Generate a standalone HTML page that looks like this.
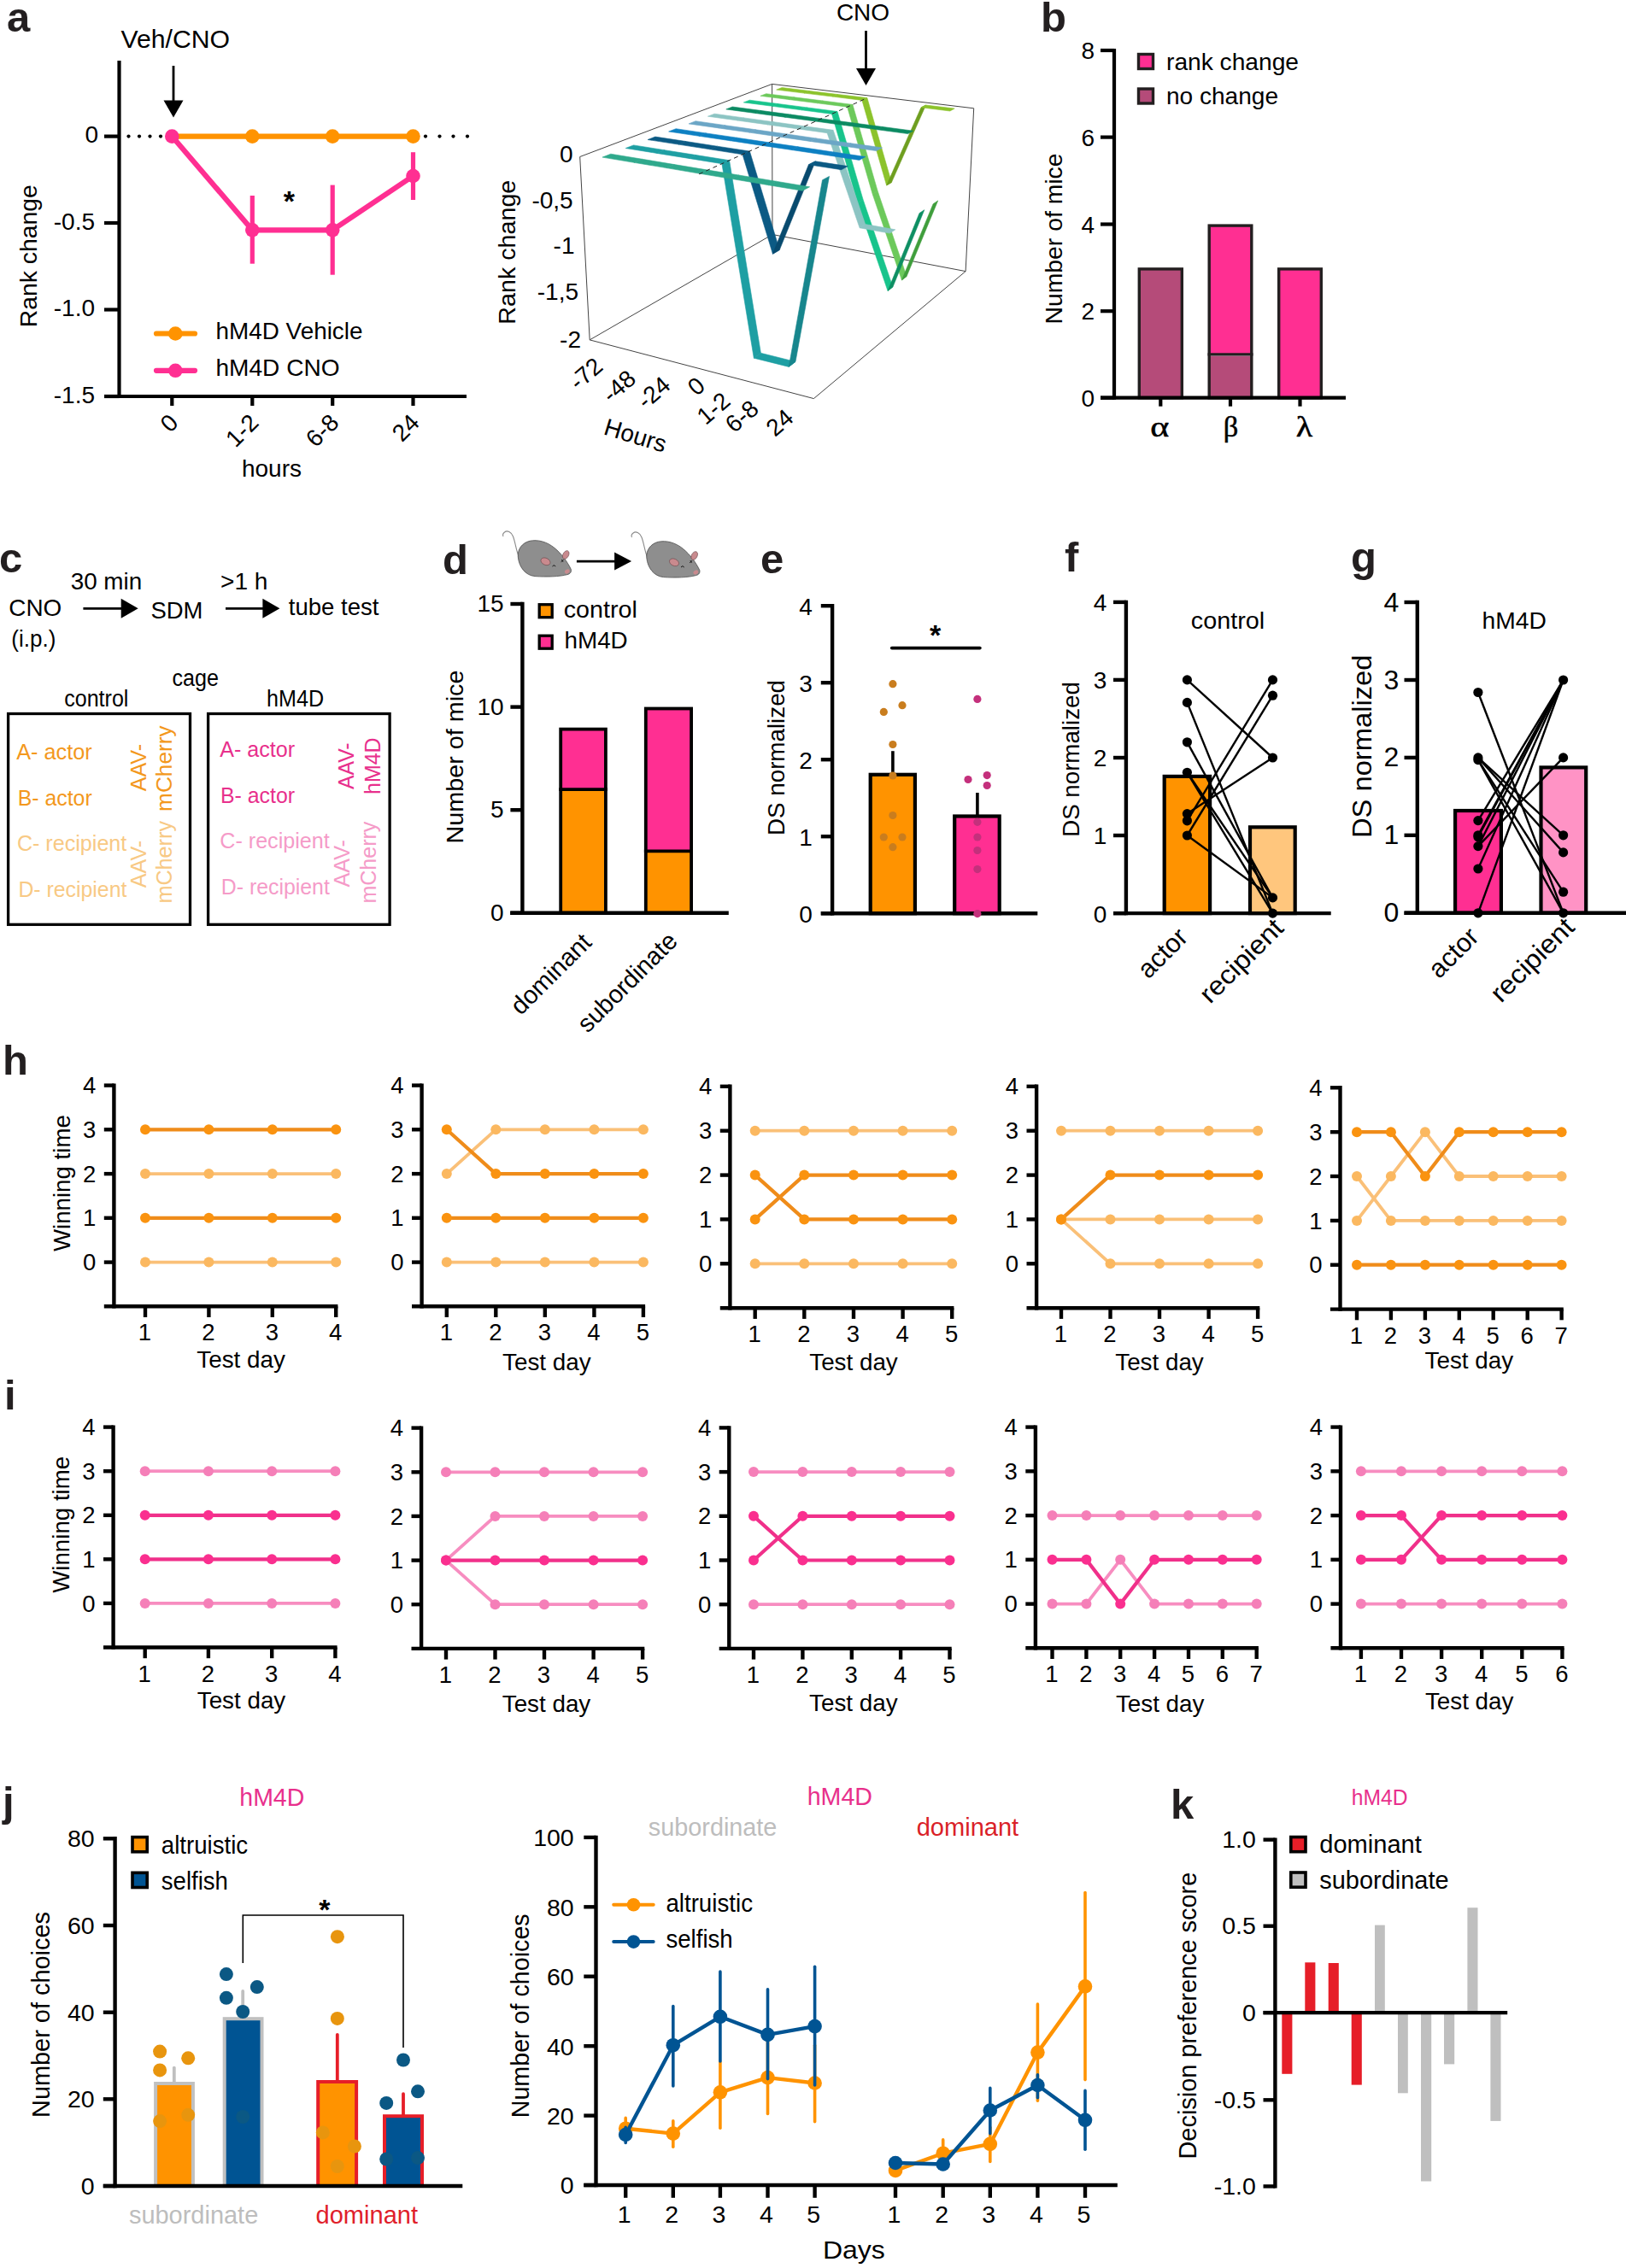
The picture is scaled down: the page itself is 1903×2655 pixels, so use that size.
<!DOCTYPE html>
<html><head><meta charset="utf-8"><title>Figure</title>
<style>html,body{margin:0;padding:0;background:#fff}svg{display:block}text{font-family:"Liberation Sans", sans-serif}</style></head>
<body>
<svg width="1903" height="2655" viewBox="0 0 1903 2655">
<rect width="1903" height="2655" fill="#fff"/>
<text x="8.0" y="37.0" font-size="49" fill="#231F20" font-weight="bold">a</text>
<text x="141.5" y="56.0" font-size="29" textLength="127.5" lengthAdjust="spacingAndGlyphs">Veh/CNO</text>
<line x1="203.0" y1="77.0" x2="203.0" y2="119.5" stroke="#000" stroke-width="2.8"/>
<polygon points="191.5,117.5 214.5,117.5 203.0,137.5" fill="#000"/>
<circle cx="150.5" cy="159.6" r="2.1" fill="#000"/>
<circle cx="163.0" cy="159.6" r="2.1" fill="#000"/>
<circle cx="175.5" cy="159.6" r="2.1" fill="#000"/>
<circle cx="188.0" cy="159.6" r="2.1" fill="#000"/>
<circle cx="498.0" cy="159.6" r="2.1" fill="#000"/>
<circle cx="514.5" cy="159.6" r="2.1" fill="#000"/>
<circle cx="530.5" cy="159.6" r="2.1" fill="#000"/>
<circle cx="547.0" cy="159.6" r="2.1" fill="#000"/>
<line x1="139.5" y1="71.0" x2="139.5" y2="466.1" stroke="#000" stroke-width="4.2"/>
<line x1="122.0" y1="464.0" x2="546.0" y2="464.0" stroke="#000" stroke-width="4.2"/>
<line x1="122.0" y1="159.6" x2="139.5" y2="159.6" stroke="#000" stroke-width="4.2"/>
<line x1="122.0" y1="261.0" x2="139.5" y2="261.0" stroke="#000" stroke-width="4.2"/>
<line x1="122.0" y1="362.5" x2="139.5" y2="362.5" stroke="#000" stroke-width="4.2"/>
<line x1="122.0" y1="464.0" x2="139.5" y2="464.0" stroke="#000" stroke-width="4.2"/>
<text x="115.0" y="167.1" font-size="28" text-anchor="end">0</text>
<text x="111.0" y="268.5" font-size="28" text-anchor="end">-0.5</text>
<text x="111.0" y="370.0" font-size="28" text-anchor="end">-1.0</text>
<text x="111.0" y="471.5" font-size="28" text-anchor="end">-1.5</text>
<line x1="201.3" y1="464.0" x2="201.3" y2="475.0" stroke="#000" stroke-width="4.2"/>
<line x1="295.3" y1="464.0" x2="295.3" y2="475.0" stroke="#000" stroke-width="4.2"/>
<line x1="389.2" y1="464.0" x2="389.2" y2="475.0" stroke="#000" stroke-width="4.2"/>
<line x1="483.5" y1="464.0" x2="483.5" y2="475.0" stroke="#000" stroke-width="4.2"/>
<text x="210.3" y="496.5" font-size="28" text-anchor="end" transform="rotate(-45 210.3 496.5)">0</text>
<text x="304.3" y="496.5" font-size="28" text-anchor="end" transform="rotate(-45 304.3 496.5)">1-2</text>
<text x="398.2" y="496.5" font-size="28" text-anchor="end" transform="rotate(-45 398.2 496.5)">6-8</text>
<text x="492.5" y="496.5" font-size="28" text-anchor="end" transform="rotate(-45 492.5 496.5)">24</text>
<text x="318.0" y="558.0" font-size="28" text-anchor="middle">hours</text>
<text x="43.5" y="299.8" font-size="28" text-anchor="middle" transform="rotate(-90 43.5 299.8)" textLength="167.0" lengthAdjust="spacingAndGlyphs">Rank change</text>
<polyline points="201.3,159.6 483.5,159.6" fill="none" stroke="#FF9300" stroke-width="6.2" stroke-linejoin="round" stroke-linecap="round"/>
<circle cx="295.3" cy="159.6" r="8.3" fill="#FF9300"/>
<circle cx="389.2" cy="159.6" r="8.3" fill="#FF9300"/>
<circle cx="483.5" cy="159.6" r="8.3" fill="#FF9300"/>
<line x1="295.3" y1="229.0" x2="295.3" y2="308.7" stroke="#FF2F92" stroke-width="5.2"/>
<line x1="389.2" y1="216.6" x2="389.2" y2="321.7" stroke="#FF2F92" stroke-width="5.2"/>
<line x1="483.5" y1="178.2" x2="483.5" y2="234.0" stroke="#FF2F92" stroke-width="5.2"/>
<polyline points="201.3,159.6 295.3,269.3 389.2,269.3 483.5,206.0" fill="none" stroke="#FF2F92" stroke-width="6.2" stroke-linejoin="round" stroke-linecap="round"/>
<circle cx="201.3" cy="159.6" r="8.3" fill="#FF2F92"/>
<circle cx="295.3" cy="269.3" r="8.3" fill="#FF2F92"/>
<circle cx="389.2" cy="269.3" r="8.3" fill="#FF2F92"/>
<circle cx="483.5" cy="206.0" r="8.3" fill="#FF2F92"/>
<text x="338.3" y="247.0" font-size="34" text-anchor="middle" font-weight="bold">*</text>
<line x1="183.0" y1="390.5" x2="228.0" y2="390.5" stroke="#FF9300" stroke-width="6.2" stroke-linecap="round"/>
<circle cx="205.3" cy="390.5" r="8.3" fill="#FF9300"/>
<line x1="183.0" y1="433.8" x2="228.0" y2="433.8" stroke="#FF2F92" stroke-width="6.2" stroke-linecap="round"/>
<circle cx="205.3" cy="433.8" r="8.3" fill="#FF2F92"/>
<text x="252.5" y="397.0" font-size="28" textLength="172.0" lengthAdjust="spacingAndGlyphs">hM4D Vehicle</text>
<text x="252.5" y="440.0" font-size="28" textLength="145.0" lengthAdjust="spacingAndGlyphs">hM4D CNO</text>
<text x="1010.0" y="24.0" font-size="28" text-anchor="middle">CNO</text>
<line x1="1013.5" y1="36.0" x2="1013.5" y2="82.0" stroke="#000" stroke-width="2.8"/>
<polygon points="1002.0,80.0 1025.0,80.0 1013.5,100.0" fill="#000"/>
<line x1="678.7" y1="183.5" x2="690.2" y2="397.9" stroke="#444" stroke-width="1.0"/>
<line x1="678.7" y1="183.5" x2="903.6" y2="98.4" stroke="#444" stroke-width="1.0"/>
<line x1="903.6" y1="98.4" x2="904.0" y2="274.5" stroke="#444" stroke-width="1.0"/>
<line x1="903.6" y1="98.4" x2="1139.7" y2="126.8" stroke="#444" stroke-width="1.0"/>
<line x1="1139.7" y1="126.8" x2="1130.1" y2="317.6" stroke="#444" stroke-width="1.0"/>
<line x1="690.2" y1="397.9" x2="904.0" y2="274.5" stroke="#444" stroke-width="1.0"/>
<line x1="904.0" y1="274.5" x2="1130.1" y2="317.6" stroke="#444" stroke-width="1.0"/>
<line x1="690.2" y1="397.9" x2="952.4" y2="466.6" stroke="#444" stroke-width="1.0"/>
<line x1="952.4" y1="466.6" x2="1130.1" y2="317.6" stroke="#444" stroke-width="1.0"/>
<polygon points="908.7,105.1 915.2,102.5 947.6,106.5 941.3,109.1" fill="#8CC32B" stroke="#8CC32B" stroke-width="0.6"/>
<polygon points="941.3,109.1 947.6,106.5 980.7,110.5 974.5,113.1" fill="#8CC32B" stroke="#8CC32B" stroke-width="0.6"/>
<polygon points="974.5,113.1 980.7,110.5 1014.9,114.6 1008.9,117.4" fill="#8CC32B" stroke="#8CC32B" stroke-width="0.6"/>
<polygon points="1008.9,117.4 1014.9,114.6 1043.4,213.6 1037.6,217.0" fill="#8CC32B" stroke="#8CC32B" stroke-width="0.6"/>
<polygon points="1037.6,217.0 1043.4,213.6 1083.6,123.0 1078.0,125.8" fill="#6E9E1F" stroke="#6E9E1F" stroke-width="0.6"/>
<polygon points="1078.0,125.8 1083.6,123.0 1117.2,127.1 1111.8,130.0" fill="#8CC32B" stroke="#8CC32B" stroke-width="0.6"/>
<polygon points="889.9,112.3 896.7,109.7 929.6,113.8 923.0,116.5" fill="#6CC95B" stroke="#6CC95B" stroke-width="0.6"/>
<polygon points="923.0,116.5 929.6,113.8 963.2,118.0 956.7,120.8" fill="#6CC95B" stroke="#6CC95B" stroke-width="0.6"/>
<polygon points="956.7,120.8 963.2,118.0 997.9,122.4 991.6,125.2" fill="#6CC95B" stroke="#6CC95B" stroke-width="0.6"/>
<polygon points="991.6,125.2 997.9,122.4 1027.1,223.4 1021.1,227.0" fill="#6CC95B" stroke="#6CC95B" stroke-width="0.6"/>
<polygon points="1021.1,227.0 1027.1,223.4 1061.1,323.5 1055.4,327.9" fill="#6CC95B" stroke="#6CC95B" stroke-width="0.6"/>
<polygon points="1055.4,327.9 1061.1,323.5 1097.7,234.9 1092.1,238.7" fill="#3F9E3C" stroke="#3F9E3C" stroke-width="0.6"/>
<polygon points="870.3,119.9 877.4,117.2 910.7,121.5 903.8,124.3" fill="#18C48C" stroke="#18C48C" stroke-width="0.6"/>
<polygon points="903.8,124.3 910.7,121.5 944.8,125.9 938.1,128.8" fill="#18C48C" stroke="#18C48C" stroke-width="0.6"/>
<polygon points="938.1,128.8 944.8,125.9 980.0,130.5 973.5,133.4" fill="#18C48C" stroke="#18C48C" stroke-width="0.6"/>
<polygon points="973.5,133.4 980.0,130.5 1010.1,233.7 1003.8,237.4" fill="#18C48C" stroke="#18C48C" stroke-width="0.6"/>
<polygon points="1003.8,237.4 1010.1,233.7 1044.9,335.9 1039.0,340.5" fill="#18C48C" stroke="#18C48C" stroke-width="0.6"/>
<polygon points="1039.0,340.5 1044.9,335.9 1081.8,245.7 1076.0,249.6" fill="#0E8F63" stroke="#0E8F63" stroke-width="0.6"/>
<polygon points="849.8,127.9 857.2,125.0 891.1,129.5 883.8,132.5" fill="#0B8A62" stroke="#0B8A62" stroke-width="0.6"/>
<polygon points="883.8,132.5 891.1,129.5 925.6,134.1 918.6,137.2" fill="#0B8A62" stroke="#0B8A62" stroke-width="0.6"/>
<polygon points="918.6,137.2 925.6,134.1 961.4,138.9 954.5,142.0" fill="#0B8A62" stroke="#0B8A62" stroke-width="0.6"/>
<polygon points="954.5,142.0 961.4,138.9 994.1,143.3 987.4,146.5" fill="#0B8A62" stroke="#0B8A62" stroke-width="0.6"/>
<polygon points="987.4,146.5 994.1,143.3 1033.4,148.5 1027.0,151.8" fill="#0B8A62" stroke="#0B8A62" stroke-width="0.6"/>
<polygon points="1027.0,151.8 1033.4,148.5 1068.8,153.2 1062.6,156.6" fill="#0B8A62" stroke="#0B8A62" stroke-width="0.6"/>
<polygon points="828.4,136.2 836.2,133.2 870.5,137.9 862.9,141.0" fill="#8CC4C3" stroke="#8CC4C3" stroke-width="0.6"/>
<polygon points="862.9,141.0 870.5,137.9 905.5,142.7 898.2,145.9" fill="#8CC4C3" stroke="#8CC4C3" stroke-width="0.6"/>
<polygon points="898.2,145.9 905.5,142.7 941.9,147.8 934.7,151.0" fill="#8CC4C3" stroke="#8CC4C3" stroke-width="0.6"/>
<polygon points="934.7,151.0 941.9,147.8 975.1,152.3 968.1,155.7" fill="#8CC4C3" stroke="#8CC4C3" stroke-width="0.6"/>
<polygon points="968.1,155.7 975.1,152.3 1012.7,262.5 1006.1,266.8" fill="#8CC4C3" stroke="#8CC4C3" stroke-width="0.6"/>
<polygon points="1006.1,266.8 1012.7,262.5 1047.8,268.8 1041.4,273.1" fill="#8CC4C3" stroke="#8CC4C3" stroke-width="0.6"/>
<polygon points="806.0,144.9 814.1,141.7 848.9,146.7 841.0,149.9" fill="#6BA6C6" stroke="#6BA6C6" stroke-width="0.6"/>
<polygon points="841.0,149.9 848.9,146.7 884.5,151.8 876.8,155.1" fill="#6BA6C6" stroke="#6BA6C6" stroke-width="0.6"/>
<polygon points="876.8,155.1 884.5,151.8 921.4,157.0 913.9,160.4" fill="#6BA6C6" stroke="#6BA6C6" stroke-width="0.6"/>
<polygon points="913.9,160.4 921.4,157.0 955.2,161.9 947.8,165.4" fill="#6BA6C6" stroke="#6BA6C6" stroke-width="0.6"/>
<polygon points="947.8,165.4 955.2,161.9 995.8,167.7 988.7,171.3" fill="#6BA6C6" stroke="#6BA6C6" stroke-width="0.6"/>
<polygon points="988.7,171.3 995.8,167.7 1032.5,172.9 1025.6,176.6" fill="#6BA6C6" stroke="#6BA6C6" stroke-width="0.6"/>
<polygon points="782.6,154.0 791.1,150.7 826.4,155.9 818.1,159.3" fill="#0D80C2" stroke="#0D80C2" stroke-width="0.6"/>
<polygon points="818.1,159.3 826.4,155.9 862.5,161.2 854.4,164.7" fill="#0D80C2" stroke="#0D80C2" stroke-width="0.6"/>
<polygon points="854.4,164.7 862.5,161.2 899.9,166.8 892.0,170.4" fill="#0D80C2" stroke="#0D80C2" stroke-width="0.6"/>
<polygon points="892.0,170.4 899.9,166.8 934.2,171.8 926.5,175.5" fill="#0D80C2" stroke="#0D80C2" stroke-width="0.6"/>
<polygon points="926.5,175.5 934.2,171.8 975.6,178.0 968.1,181.7" fill="#0D80C2" stroke="#0D80C2" stroke-width="0.6"/>
<polygon points="968.1,181.7 975.6,178.0 1012.9,183.5 1005.7,187.4" fill="#0D80C2" stroke="#0D80C2" stroke-width="0.6"/>
<polygon points="758.0,163.5 766.9,160.1 802.7,165.5 794.0,169.1" fill="#0B5A84" stroke="#0B5A84" stroke-width="0.6"/>
<polygon points="794.0,169.1 802.7,165.5 839.3,171.2 830.8,174.8" fill="#0B5A84" stroke="#0B5A84" stroke-width="0.6"/>
<polygon points="830.8,174.8 839.3,171.2 877.4,177.0 869.0,180.8" fill="#0B5A84" stroke="#0B5A84" stroke-width="0.6"/>
<polygon points="869.0,180.8 877.4,177.0 912.3,292.6 904.4,297.3" fill="#0B5A84" stroke="#0B5A84" stroke-width="0.6"/>
<polygon points="904.4,297.3 912.3,292.6 954.3,188.8 946.4,192.8" fill="#084A6E" stroke="#084A6E" stroke-width="0.6"/>
<polygon points="946.4,192.8 954.3,188.8 992.3,194.6 984.7,198.7" fill="#0B5A84" stroke="#0B5A84" stroke-width="0.6"/>
<polygon points="732.2,173.5 741.5,169.9 777.8,175.7 768.6,179.4" fill="#1E9FA3" stroke="#1E9FA3" stroke-width="0.6"/>
<polygon points="768.6,179.4 777.8,175.7 815.0,181.6 806.0,185.4" fill="#1E9FA3" stroke="#1E9FA3" stroke-width="0.6"/>
<polygon points="806.0,185.4 815.0,181.6 853.6,187.7 844.9,191.7" fill="#1E9FA3" stroke="#1E9FA3" stroke-width="0.6"/>
<polygon points="844.9,191.7 853.6,187.7 890.4,413.3 882.3,419.2" fill="#1E9FA3" stroke="#1E9FA3" stroke-width="0.6"/>
<polygon points="882.3,419.2 890.4,413.3 931.0,423.4 923.2,429.4" fill="#1E9FA3" stroke="#1E9FA3" stroke-width="0.6"/>
<polygon points="923.2,429.4 931.0,423.4 970.5,206.4 962.5,210.7" fill="#17868D" stroke="#17868D" stroke-width="0.6"/>
<polygon points="705.0,184.1 714.8,180.2 751.7,186.3 742.0,190.3" fill="#2FA98C" stroke="#2FA98C" stroke-width="0.6"/>
<polygon points="742.0,190.3 751.7,186.3 789.4,192.6 779.9,196.6" fill="#2FA98C" stroke="#2FA98C" stroke-width="0.6"/>
<polygon points="779.9,196.6 789.4,192.6 828.6,199.1 819.4,203.3" fill="#2FA98C" stroke="#2FA98C" stroke-width="0.6"/>
<polygon points="819.4,203.3 828.6,199.1 864.7,205.0 855.7,209.3" fill="#2FA98C" stroke="#2FA98C" stroke-width="0.6"/>
<polygon points="855.7,209.3 864.7,205.0 908.2,212.2 899.5,216.7" fill="#2FA98C" stroke="#2FA98C" stroke-width="0.6"/>
<polygon points="899.5,216.7 908.2,212.2 947.6,218.8 939.1,223.3" fill="#2FA98C" stroke="#2FA98C" stroke-width="0.6"/>
<line x1="818.1" y1="203.8" x2="1013.3" y2="115.4" stroke="#222" stroke-width="1" stroke-dasharray="5 4"/>
<text x="670.7" y="189.7" font-size="28" text-anchor="end">0</text>
<text x="670.7" y="243.6" font-size="28" text-anchor="end">-0,5</text>
<text x="672.5" y="297.0" font-size="28" text-anchor="end">-1</text>
<text x="677.0" y="351.3" font-size="28" text-anchor="end">-1,5</text>
<text x="680.0" y="406.7" font-size="28" text-anchor="end">-2</text>
<text x="603.5" y="295.2" font-size="28" text-anchor="middle" transform="rotate(-90 603.5 295.2)" textLength="169.0" lengthAdjust="spacingAndGlyphs">Rank change</text>
<text font-size="28" text-anchor="middle" transform="translate(685.5 437.3) rotate(-41)" y="9.8">-72</text>
<text font-size="28" text-anchor="middle" transform="translate(724.2 452.0) rotate(-41)" y="9.8">-48</text>
<text font-size="28" text-anchor="middle" transform="translate(764.8 459.4) rotate(-41)" y="9.8">-24</text>
<text font-size="28" text-anchor="middle" transform="translate(814.6 452.0) rotate(-41)" y="9.8">0</text>
<text font-size="28" text-anchor="middle" transform="translate(834.9 477.9) rotate(-41)" y="9.8">1-2</text>
<text font-size="28" text-anchor="middle" transform="translate(868.1 487.1) rotate(-41)" y="9.8">6-8</text>
<text font-size="28" text-anchor="middle" transform="translate(912.4 494.5) rotate(-41)" y="9.8">24</text>
<text x="741.0" y="519.0" font-size="28" text-anchor="middle" transform="rotate(17 741.0 519.0)">Hours</text>
<text x="1218.0" y="37.0" font-size="49" fill="#231F20" font-weight="bold">b</text>
<rect x="1333.3" y="314.9" width="50.0" height="150.8" fill="#B54B79"/>
<rect x="1333.3" y="314.9" width="50.0" height="150.8" fill="none" stroke="#231F20" stroke-width="3.4"/>
<rect x="1415.2" y="416.6" width="49.6" height="49.1" fill="#B54B79"/>
<rect x="1415.2" y="264.1" width="49.6" height="150.8" fill="#FF2F92"/>
<rect x="1415.2" y="264.1" width="49.6" height="201.6" fill="none" stroke="#231F20" stroke-width="3.4"/>
<line x1="1413.5" y1="414.9" x2="1466.5" y2="414.9" stroke="#231F20" stroke-width="3.4"/>
<rect x="1496.7" y="314.9" width="49.6" height="150.8" fill="#FF2F92"/>
<rect x="1496.7" y="314.9" width="49.6" height="150.8" fill="none" stroke="#231F20" stroke-width="3.4"/>
<line x1="1304.0" y1="56.9" x2="1304.0" y2="467.8" stroke="#000" stroke-width="4.2"/>
<line x1="1288.0" y1="465.7" x2="1575.0" y2="465.7" stroke="#000" stroke-width="4.2"/>
<line x1="1288.0" y1="59.0" x2="1304.0" y2="59.0" stroke="#000" stroke-width="4.2"/>
<text x="1281.0" y="69.0" font-size="28" text-anchor="end">8</text>
<line x1="1288.0" y1="160.6" x2="1304.0" y2="160.6" stroke="#000" stroke-width="4.2"/>
<text x="1281.0" y="170.6" font-size="28" text-anchor="end">6</text>
<line x1="1288.0" y1="262.5" x2="1304.0" y2="262.5" stroke="#000" stroke-width="4.2"/>
<text x="1281.0" y="272.5" font-size="28" text-anchor="end">4</text>
<line x1="1288.0" y1="364.2" x2="1304.0" y2="364.2" stroke="#000" stroke-width="4.2"/>
<text x="1281.0" y="374.2" font-size="28" text-anchor="end">2</text>
<line x1="1288.0" y1="465.7" x2="1304.0" y2="465.7" stroke="#000" stroke-width="4.2"/>
<text x="1281.0" y="475.7" font-size="28" text-anchor="end">0</text>
<line x1="1358.3" y1="465.7" x2="1358.3" y2="475.7" stroke="#000" stroke-width="4.2"/>
<text x="1357.3" y="511.2" font-size="34" text-anchor="middle" style="font-family:'Liberation Serif', serif" stroke="#000" stroke-width="0.5" textLength="22" lengthAdjust="spacingAndGlyphs">α</text>
<line x1="1440.0" y1="465.7" x2="1440.0" y2="475.7" stroke="#000" stroke-width="4.2"/>
<text x="1440.5" y="511.2" font-size="34" text-anchor="middle" style="font-family:'Liberation Serif', serif" stroke="#000" stroke-width="0.5" textLength="17.5" lengthAdjust="spacingAndGlyphs">β</text>
<line x1="1521.5" y1="465.7" x2="1521.5" y2="475.7" stroke="#000" stroke-width="4.2"/>
<text x="1526.5" y="511.2" font-size="34" text-anchor="middle" style="font-family:'Liberation Serif', serif" stroke="#000" stroke-width="0.5" textLength="19.4" lengthAdjust="spacingAndGlyphs">λ</text>
<text x="1243.0" y="279.5" font-size="28" text-anchor="middle" transform="rotate(-90 1243.0 279.5)" textLength="200.0" lengthAdjust="spacingAndGlyphs">Number of mice</text>
<rect x="1332.5" y="63.5" width="17.0" height="17.0" fill="#FF2F92" stroke="#231F20" stroke-width="3.4"/>
<text x="1365.0" y="81.5" font-size="28" textLength="155.0" lengthAdjust="spacingAndGlyphs">rank change</text>
<rect x="1332.5" y="104.0" width="17.0" height="17.0" fill="#B54B79" stroke="#231F20" stroke-width="3.4"/>
<text x="1365.0" y="122.0" font-size="28" textLength="131.0" lengthAdjust="spacingAndGlyphs">no change</text>
<text x="-1.0" y="669.5" font-size="49" fill="#231F20" font-weight="bold">c</text>
<text x="82.7" y="689.6" font-size="28" textLength="83.5" lengthAdjust="spacingAndGlyphs">30 min</text>
<text x="10.3" y="721.3" font-size="28.5" textLength="62.0" lengthAdjust="spacingAndGlyphs">CNO</text>
<text x="13.3" y="756.5" font-size="28" textLength="52.0" lengthAdjust="spacingAndGlyphs">(i.p.)</text>
<line x1="97.4" y1="712.3" x2="143.7" y2="712.3" stroke="#000" stroke-width="2.8"/>
<polygon points="141.7,700.8 141.7,723.8 161.7,712.3" fill="#000"/>
<text x="176.4" y="724.0" font-size="28.5" textLength="61.0" lengthAdjust="spacingAndGlyphs">SDM</text>
<text x="258.0" y="689.6" font-size="28" textLength="55.5" lengthAdjust="spacingAndGlyphs">&gt;1 h</text>
<line x1="264.0" y1="712.3" x2="309.4" y2="712.3" stroke="#000" stroke-width="2.8"/>
<polygon points="307.4,700.8 307.4,723.8 327.4,712.3" fill="#000"/>
<text x="337.8" y="720.4" font-size="28.5" textLength="105.6" lengthAdjust="spacingAndGlyphs">tube test</text>
<text x="201.5" y="803.1" font-size="27" textLength="54.5" lengthAdjust="spacingAndGlyphs">cage</text>
<text x="75.2" y="826.7" font-size="27" textLength="75.2" lengthAdjust="spacingAndGlyphs">control</text>
<text x="312.1" y="826.7" font-size="27" textLength="67.0" lengthAdjust="spacingAndGlyphs">hM4D</text>
<rect x="9.6" y="835.5" width="212.9" height="246.8" fill="none" stroke="#000" stroke-width="3.3"/>
<rect x="243.6" y="835.5" width="212.5" height="246.8" fill="none" stroke="#000" stroke-width="3.3"/>
<text x="19.2" y="888.6" font-size="26" fill="#F3981D" textLength="88.5" lengthAdjust="spacingAndGlyphs">A- actor</text>
<text x="20.7" y="942.5" font-size="26" fill="#F3981D" textLength="87.0" lengthAdjust="spacingAndGlyphs">B- actor</text>
<text x="19.9" y="996.4" font-size="26" fill="#F8C984" textLength="128.4" lengthAdjust="spacingAndGlyphs">C- recipient</text>
<text x="21.4" y="1050.3" font-size="26" fill="#F8C984" textLength="127.0" lengthAdjust="spacingAndGlyphs">D- recipient</text>
<text x="171.2" y="898.6" font-size="26" text-anchor="middle" transform="rotate(-90 171.2 898.6)" fill="#F3981D" textLength="55.4" lengthAdjust="spacingAndGlyphs">AAV-</text>
<text x="201.5" y="899.7" font-size="26" text-anchor="middle" transform="rotate(-90 201.5 899.7)" fill="#F3981D" textLength="100.4" lengthAdjust="spacingAndGlyphs">mCherry</text>
<text x="171.2" y="1011.5" font-size="26" text-anchor="middle" transform="rotate(-90 171.2 1011.5)" fill="#F8C984" textLength="55.4" lengthAdjust="spacingAndGlyphs">AAV-</text>
<text x="201.5" y="1009.3" font-size="26" text-anchor="middle" transform="rotate(-90 201.5 1009.3)" fill="#F8C984" textLength="96.6" lengthAdjust="spacingAndGlyphs">mCherry</text>
<text x="257.3" y="885.7" font-size="26" fill="#E8308C" textLength="87.8" lengthAdjust="spacingAndGlyphs">A- actor</text>
<text x="258.0" y="940.3" font-size="26" fill="#E8308C" textLength="87.0" lengthAdjust="spacingAndGlyphs">B- actor</text>
<text x="257.3" y="993.4" font-size="26" fill="#F59BC8" textLength="128.4" lengthAdjust="spacingAndGlyphs">C- recipient</text>
<text x="258.8" y="1047.3" font-size="26" fill="#F59BC8" textLength="127.0" lengthAdjust="spacingAndGlyphs">D- recipient</text>
<text x="414.5" y="896.7" font-size="26" text-anchor="middle" transform="rotate(-90 414.5 896.7)" fill="#E8308C" textLength="54.6" lengthAdjust="spacingAndGlyphs">AAV-</text>
<text x="444.8" y="896.7" font-size="26" text-anchor="middle" transform="rotate(-90 444.8 896.7)" fill="#E8308C" textLength="66.5" lengthAdjust="spacingAndGlyphs">hM4D</text>
<text x="409.3" y="1010.8" font-size="26" text-anchor="middle" transform="rotate(-90 409.3 1010.8)" fill="#F59BC8" textLength="55.4" lengthAdjust="spacingAndGlyphs">AAV-</text>
<text x="439.6" y="1009.6" font-size="26" text-anchor="middle" transform="rotate(-90 439.6 1009.6)" fill="#F59BC8" textLength="96.0" lengthAdjust="spacingAndGlyphs">mCherry</text>
<text x="518.0" y="672.0" font-size="49" fill="#231F20" font-weight="bold">d</text>
<g transform="translate(0.0 0.0)">
<path d="M607.5,652 C604,645 603.5,636 600.5,628 C598.5,622.5 593.5,620.5 590.5,623 C588.5,624.5 588.3,626.5 589,628" fill="none" stroke="#8a8a8a" stroke-width="1.1"/>
<path d="M606.3,652 C605.5,643 611,635.5 620,633.3 C629,631.3 640,634 649,641.5 C657,648 664,657.5 668.3,666.5 C669,669.5 667.5,671.8 664,672.6 C655,675 640,675.6 626,674.6 C615,673.6 607.5,664 606.3,652 Z" fill="#8E8E8E" stroke="#4a4a4a" stroke-width="0.8"/>
<ellipse cx="662.2" cy="649.5" rx="3.3" ry="5.2" transform="rotate(28 662.2 649.5)" fill="#C98A8E" stroke="#6b4a4c" stroke-width="0.6"/>
<ellipse cx="638.5" cy="657.3" rx="5.8" ry="4" transform="rotate(25 638.5 657.3)" fill="#C98A8E" stroke="#6b4a4c" stroke-width="0.6"/>
<ellipse cx="663.8" cy="669" rx="3" ry="2.3" transform="rotate(-30 663.8 669)" fill="#C98A8E"/>
<path d="M646.5,663 Q648.3,660.3 650.2,663" fill="none" stroke="#111" stroke-width="1"/>
<path d="M656.6,657.8 L659.6,655.4 M657.4,655 L659,657.8" fill="none" stroke="#111" stroke-width="0.9"/>
</g>
<g transform="translate(150.5 1.0)">
<path d="M607.5,652 C604,645 603.5,636 600.5,628 C598.5,622.5 593.5,620.5 590.5,623 C588.5,624.5 588.3,626.5 589,628" fill="none" stroke="#8a8a8a" stroke-width="1.1"/>
<path d="M606.3,652 C605.5,643 611,635.5 620,633.3 C629,631.3 640,634 649,641.5 C657,648 664,657.5 668.3,666.5 C669,669.5 667.5,671.8 664,672.6 C655,675 640,675.6 626,674.6 C615,673.6 607.5,664 606.3,652 Z" fill="#8E8E8E" stroke="#4a4a4a" stroke-width="0.8"/>
<ellipse cx="662.2" cy="649.5" rx="3.3" ry="5.2" transform="rotate(28 662.2 649.5)" fill="#C98A8E" stroke="#6b4a4c" stroke-width="0.6"/>
<ellipse cx="638.5" cy="657.3" rx="5.8" ry="4" transform="rotate(25 638.5 657.3)" fill="#C98A8E" stroke="#6b4a4c" stroke-width="0.6"/>
<ellipse cx="663.8" cy="669" rx="3" ry="2.3" transform="rotate(-30 663.8 669)" fill="#C98A8E"/>
<path d="M646.5,663 Q648.3,660.3 650.2,663" fill="none" stroke="#111" stroke-width="1"/>
<path d="M656.6,657.8 L659.6,655.4 M657.4,655 L659,657.8" fill="none" stroke="#111" stroke-width="0.9"/>
</g>
<line x1="674.9" y1="657.1" x2="721.1" y2="657.1" stroke="#000" stroke-width="2.8"/>
<polygon points="719.1,646.6 719.1,667.6 739.1,657.1" fill="#000"/>
<rect x="656.2" y="853.6" width="52.7" height="215.2" fill="#FF2F92"/>
<rect x="656.2" y="924.1" width="52.7" height="144.7" fill="#FF9300"/>
<rect x="656.2" y="853.6" width="52.7" height="215.2" fill="none" stroke="#000" stroke-width="3.8"/>
<line x1="654.3" y1="924.1" x2="710.8" y2="924.1" stroke="#000" stroke-width="3.8"/>
<rect x="755.8" y="829.5" width="53.3" height="239.3" fill="#FF2F92"/>
<rect x="755.8" y="996.4" width="53.3" height="72.4" fill="#FF9300"/>
<rect x="755.8" y="829.5" width="53.3" height="239.3" fill="none" stroke="#000" stroke-width="3.8"/>
<line x1="753.9" y1="996.4" x2="811.0" y2="996.4" stroke="#000" stroke-width="3.8"/>
<line x1="611.4" y1="704.8" x2="611.4" y2="1071.0" stroke="#000" stroke-width="4.4"/>
<line x1="597.2" y1="1068.8" x2="852.8" y2="1068.8" stroke="#000" stroke-width="4.4"/>
<line x1="597.4" y1="1068.8" x2="611.4" y2="1068.8" stroke="#000" stroke-width="4.4"/>
<text x="589.7" y="1077.8" font-size="28" text-anchor="end">0</text>
<line x1="597.4" y1="948.2" x2="611.4" y2="948.2" stroke="#000" stroke-width="4.4"/>
<text x="589.7" y="957.2" font-size="28" text-anchor="end">5</text>
<line x1="597.4" y1="827.6" x2="611.4" y2="827.6" stroke="#000" stroke-width="4.4"/>
<text x="589.7" y="836.6" font-size="28" text-anchor="end">10</text>
<line x1="597.4" y1="707.0" x2="611.4" y2="707.0" stroke="#000" stroke-width="4.4"/>
<text x="589.7" y="716.0" font-size="28" text-anchor="end">15</text>
<text x="542.0" y="886.0" font-size="28.5" text-anchor="middle" transform="rotate(-90 542.0 886.0)" textLength="203.0" lengthAdjust="spacingAndGlyphs">Number of mice</text>
<rect x="631.2" y="707.7" width="15.0" height="15.0" fill="#FF9300" stroke="#000" stroke-width="3.3"/>
<rect x="631.2" y="744.2" width="15.0" height="15.0" fill="#FF2F92" stroke="#000" stroke-width="3.3"/>
<text x="659.8" y="722.8" font-size="28.5" textLength="86.0" lengthAdjust="spacingAndGlyphs">control</text>
<text x="660.5" y="759.0" font-size="28.5" textLength="74.2" lengthAdjust="spacingAndGlyphs">hM4D</text>
<text x="694.0" y="1105.0" font-size="29.5" text-anchor="end" transform="rotate(-45 694.0 1105.0)" textLength="119.5" lengthAdjust="spacingAndGlyphs">dominant</text>
<text x="794.5" y="1103.5" font-size="29.5" text-anchor="end" transform="rotate(-45 794.5 1103.5)" textLength="151.0" lengthAdjust="spacingAndGlyphs">subordinate</text>
<text x="890.0" y="671.0" font-size="49" fill="#231F20" font-weight="bold">e</text>
<line x1="1044.9" y1="879.2" x2="1044.9" y2="906.0" stroke="#000" stroke-width="3.6"/>
<line x1="1143.9" y1="928.0" x2="1143.9" y2="955.0" stroke="#000" stroke-width="3.6"/>
<rect x="1018.7" y="906.8" width="52.2" height="162.4" fill="#FF9300" stroke="#000" stroke-width="4.2"/>
<rect x="1117.2" y="955.5" width="52.5" height="113.7" fill="#FF2F92" stroke="#000" stroke-width="4.2"/>
<line x1="974.1" y1="707.0" x2="974.1" y2="1071.4" stroke="#000" stroke-width="4.4"/>
<line x1="960.8" y1="1069.2" x2="1214.3" y2="1069.2" stroke="#000" stroke-width="4.4"/>
<line x1="960.8" y1="1069.2" x2="974.1" y2="1069.2" stroke="#000" stroke-width="4.4"/>
<text x="950.8" y="1079.5" font-size="28" text-anchor="end">0</text>
<line x1="960.8" y1="979.2" x2="974.1" y2="979.2" stroke="#000" stroke-width="4.4"/>
<text x="950.8" y="989.5" font-size="28" text-anchor="end">1</text>
<line x1="960.8" y1="889.2" x2="974.1" y2="889.2" stroke="#000" stroke-width="4.4"/>
<text x="950.8" y="899.5" font-size="28" text-anchor="end">2</text>
<line x1="960.8" y1="799.2" x2="974.1" y2="799.2" stroke="#000" stroke-width="4.4"/>
<text x="950.8" y="809.5" font-size="28" text-anchor="end">3</text>
<line x1="960.8" y1="709.2" x2="974.1" y2="709.2" stroke="#000" stroke-width="4.4"/>
<text x="950.8" y="719.5" font-size="28" text-anchor="end">4</text>
<text x="918.0" y="887.0" font-size="28.5" text-anchor="middle" transform="rotate(-90 918.0 887.0)" textLength="182.0" lengthAdjust="spacingAndGlyphs">DS normalized</text>
<circle cx="1044.9" cy="800.7" r="4.6" fill="#C97D1E"/>
<circle cx="1056.0" cy="825.7" r="4.6" fill="#C97D1E"/>
<circle cx="1034.3" cy="833.4" r="4.6" fill="#C97D1E"/>
<circle cx="1044.9" cy="871.5" r="4.6" fill="#C97D1E"/>
<circle cx="1044.9" cy="908.0" r="4.6" fill="#C97D1E"/>
<circle cx="1044.9" cy="954.5" r="4.6" fill="#C97D1E"/>
<circle cx="1034.3" cy="980.0" r="4.6" fill="#C97D1E"/>
<circle cx="1056.0" cy="980.0" r="4.6" fill="#C97D1E"/>
<circle cx="1044.9" cy="991.7" r="4.6" fill="#C97D1E"/>
<circle cx="1143.9" cy="818.4" r="4.6" fill="#C4307C"/>
<circle cx="1133.0" cy="912.5" r="4.6" fill="#C4307C"/>
<circle cx="1155.2" cy="907.6" r="4.6" fill="#C4307C"/>
<circle cx="1155.2" cy="919.5" r="4.6" fill="#C4307C"/>
<circle cx="1143.9" cy="962.3" r="4.6" fill="#C4307C"/>
<circle cx="1143.9" cy="980.0" r="4.6" fill="#C4307C"/>
<circle cx="1143.9" cy="995.5" r="4.6" fill="#C4307C"/>
<circle cx="1143.9" cy="1017.6" r="4.6" fill="#C4307C"/>
<circle cx="1143.9" cy="1069.6" r="4.6" fill="#C4307C"/>
<line x1="1043.8" y1="758.6" x2="1146.8" y2="758.6" stroke="#000" stroke-width="3.8" stroke-linecap="round"/>
<text x="1094.7" y="755.0" font-size="34" text-anchor="middle" font-weight="bold">*</text>
<text x="1246.0" y="668.6" font-size="49" fill="#231F20" font-weight="bold">f</text>
<rect x="1362.7" y="908.9" width="53.4" height="160.2" fill="#FF9300" stroke="#000" stroke-width="4.2"/>
<rect x="1463.0" y="968.3" width="52.7" height="100.8" fill="#FFC67D" stroke="#000" stroke-width="4.2"/>
<line x1="1317.9" y1="702.7" x2="1317.9" y2="1071.3" stroke="#000" stroke-width="4.4"/>
<line x1="1303.0" y1="1069.1" x2="1557.7" y2="1069.1" stroke="#000" stroke-width="4.4"/>
<line x1="1303.0" y1="1069.1" x2="1317.9" y2="1069.1" stroke="#000" stroke-width="4.4"/>
<text x="1295.3" y="1079.5" font-size="28" text-anchor="end">0</text>
<line x1="1303.0" y1="978.0" x2="1317.9" y2="978.0" stroke="#000" stroke-width="4.4"/>
<text x="1295.3" y="988.4" font-size="28" text-anchor="end">1</text>
<line x1="1303.0" y1="887.0" x2="1317.9" y2="887.0" stroke="#000" stroke-width="4.4"/>
<text x="1295.3" y="897.4" font-size="28" text-anchor="end">2</text>
<line x1="1303.0" y1="795.9" x2="1317.9" y2="795.9" stroke="#000" stroke-width="4.4"/>
<text x="1295.3" y="806.3" font-size="28" text-anchor="end">3</text>
<line x1="1303.0" y1="704.9" x2="1317.9" y2="704.9" stroke="#000" stroke-width="4.4"/>
<text x="1295.3" y="715.3" font-size="28" text-anchor="end">4</text>
<line x1="1389.4" y1="795.9" x2="1489.5" y2="887.0" stroke="#000" stroke-width="2.4"/>
<line x1="1389.4" y1="822.4" x2="1489.5" y2="1069.1" stroke="#000" stroke-width="2.4"/>
<line x1="1389.4" y1="868.8" x2="1489.5" y2="1050.9" stroke="#000" stroke-width="2.4"/>
<line x1="1389.4" y1="904.3" x2="1489.5" y2="1069.1" stroke="#000" stroke-width="2.4"/>
<line x1="1389.4" y1="904.3" x2="1489.5" y2="1050.9" stroke="#000" stroke-width="2.4"/>
<line x1="1389.4" y1="952.6" x2="1489.5" y2="887.0" stroke="#000" stroke-width="2.4"/>
<line x1="1389.4" y1="960.8" x2="1489.5" y2="795.9" stroke="#000" stroke-width="2.4"/>
<line x1="1389.4" y1="978.0" x2="1489.5" y2="814.2" stroke="#000" stroke-width="2.4"/>
<line x1="1389.4" y1="978.0" x2="1489.5" y2="1050.9" stroke="#000" stroke-width="2.4"/>
<circle cx="1389.4" cy="978.0" r="5.6" fill="#000"/>
<circle cx="1389.4" cy="960.8" r="5.6" fill="#000"/>
<circle cx="1389.4" cy="952.6" r="5.6" fill="#000"/>
<circle cx="1389.4" cy="904.3" r="5.6" fill="#000"/>
<circle cx="1389.4" cy="868.8" r="5.6" fill="#000"/>
<circle cx="1389.4" cy="822.4" r="5.6" fill="#000"/>
<circle cx="1389.4" cy="795.9" r="5.6" fill="#000"/>
<circle cx="1489.5" cy="1069.1" r="5.6" fill="#000"/>
<circle cx="1489.5" cy="1050.9" r="5.6" fill="#000"/>
<circle cx="1489.5" cy="887.0" r="5.6" fill="#000"/>
<circle cx="1489.5" cy="814.2" r="5.6" fill="#000"/>
<circle cx="1489.5" cy="795.9" r="5.6" fill="#000"/>
<text x="1393.8" y="736.0" font-size="27.5" textLength="86.4" lengthAdjust="spacingAndGlyphs">control</text>
<text x="1263.2" y="889.0" font-size="28" text-anchor="middle" transform="rotate(-90 1263.2 889.0)" textLength="181.6" lengthAdjust="spacingAndGlyphs">DS normalized</text>
<text x="1368.0" y="1123.0" font-size="31" text-anchor="middle" transform="rotate(-45 1368.0 1123.0)" textLength="68.0" lengthAdjust="spacingAndGlyphs">actor</text>
<text x="1460.2" y="1132.1" font-size="31" text-anchor="middle" transform="rotate(-45 1460.2 1132.1)" textLength="124.0" lengthAdjust="spacingAndGlyphs">recipient</text>
<text x="1581.0" y="668.5" font-size="49" fill="#231F20" font-weight="bold">g</text>
<rect x="1703.1" y="949.0" width="53.8" height="119.8" fill="#FF2F92" stroke="#000" stroke-width="4.2"/>
<rect x="1803.5" y="898.4" width="52.7" height="170.4" fill="#FF93C5" stroke="#000" stroke-width="4.2"/>
<line x1="1658.8" y1="702.8" x2="1658.8" y2="1071.0" stroke="#000" stroke-width="4.4"/>
<line x1="1643.5" y1="1068.8" x2="1910.0" y2="1068.8" stroke="#000" stroke-width="4.4"/>
<line x1="1643.5" y1="1068.8" x2="1658.8" y2="1068.8" stroke="#000" stroke-width="4.4"/>
<text x="1637.2" y="1079.3" font-size="32" text-anchor="end">0</text>
<line x1="1643.5" y1="977.8" x2="1658.8" y2="977.8" stroke="#000" stroke-width="4.4"/>
<text x="1637.2" y="988.3" font-size="32" text-anchor="end">1</text>
<line x1="1643.5" y1="886.9" x2="1658.8" y2="886.9" stroke="#000" stroke-width="4.4"/>
<text x="1637.2" y="897.4" font-size="32" text-anchor="end">2</text>
<line x1="1643.5" y1="796.0" x2="1658.8" y2="796.0" stroke="#000" stroke-width="4.4"/>
<text x="1637.2" y="806.5" font-size="32" text-anchor="end">3</text>
<line x1="1643.5" y1="705.0" x2="1658.8" y2="705.0" stroke="#000" stroke-width="4.4"/>
<text x="1637.2" y="715.5" font-size="32" text-anchor="end">4</text>
<line x1="1729.9" y1="810.5" x2="1829.6" y2="1068.8" stroke="#000" stroke-width="2.4"/>
<line x1="1729.9" y1="886.9" x2="1829.6" y2="977.8" stroke="#000" stroke-width="2.4"/>
<line x1="1729.9" y1="886.9" x2="1829.6" y2="997.9" stroke="#000" stroke-width="2.4"/>
<line x1="1729.9" y1="889.6" x2="1829.6" y2="1044.2" stroke="#000" stroke-width="2.4"/>
<line x1="1729.9" y1="889.6" x2="1829.6" y2="1068.8" stroke="#000" stroke-width="2.4"/>
<line x1="1729.9" y1="960.6" x2="1829.6" y2="796.0" stroke="#000" stroke-width="2.4"/>
<line x1="1729.9" y1="979.7" x2="1829.6" y2="796.0" stroke="#000" stroke-width="2.4"/>
<line x1="1729.9" y1="977.8" x2="1829.6" y2="796.0" stroke="#000" stroke-width="2.4"/>
<line x1="1729.9" y1="990.6" x2="1829.6" y2="886.9" stroke="#000" stroke-width="2.4"/>
<line x1="1729.9" y1="1017.0" x2="1829.6" y2="796.0" stroke="#000" stroke-width="2.4"/>
<line x1="1729.9" y1="1068.8" x2="1829.6" y2="796.0" stroke="#000" stroke-width="2.4"/>
<line x1="1729.9" y1="990.6" x2="1829.6" y2="796.0" stroke="#000" stroke-width="2.4"/>
<circle cx="1729.9" cy="1068.8" r="5.6" fill="#000"/>
<circle cx="1729.9" cy="1017.0" r="5.6" fill="#000"/>
<circle cx="1729.9" cy="990.6" r="5.6" fill="#000"/>
<circle cx="1729.9" cy="979.7" r="5.6" fill="#000"/>
<circle cx="1729.9" cy="977.8" r="5.6" fill="#000"/>
<circle cx="1729.9" cy="960.6" r="5.6" fill="#000"/>
<circle cx="1729.9" cy="889.6" r="5.6" fill="#000"/>
<circle cx="1729.9" cy="886.9" r="5.6" fill="#000"/>
<circle cx="1729.9" cy="810.5" r="5.6" fill="#000"/>
<circle cx="1829.6" cy="1068.8" r="5.6" fill="#000"/>
<circle cx="1829.6" cy="1044.2" r="5.6" fill="#000"/>
<circle cx="1829.6" cy="997.9" r="5.6" fill="#000"/>
<circle cx="1829.6" cy="977.8" r="5.6" fill="#000"/>
<circle cx="1829.6" cy="886.9" r="5.6" fill="#000"/>
<circle cx="1829.6" cy="796.0" r="5.6" fill="#000"/>
<text x="1734.5" y="736.3" font-size="27.5" textLength="75.3" lengthAdjust="spacingAndGlyphs">hM4D</text>
<text x="1604.8" y="873.8" font-size="32" text-anchor="middle" transform="rotate(-90 1604.8 873.8)" textLength="214.4" lengthAdjust="spacingAndGlyphs">DS normalized</text>
<text x="1708.4" y="1122.6" font-size="31" text-anchor="middle" transform="rotate(-45 1708.4 1122.6)" textLength="68.0" lengthAdjust="spacingAndGlyphs">actor</text>
<text x="1800.5" y="1131.2" font-size="31" text-anchor="middle" transform="rotate(-45 1800.5 1131.2)" textLength="124.0" lengthAdjust="spacingAndGlyphs">recipient</text>
<text x="3.0" y="1258.0" font-size="49" fill="#231F20" font-weight="bold">h</text>
<polyline points="170.0,1477.6 244.4,1477.6 318.8,1477.6 393.2,1477.6" fill="none" stroke="#FAC078" stroke-width="3.8" stroke-linejoin="round" stroke-linecap="round"/>
<polyline points="170.0,1374.1 244.4,1374.1 318.8,1374.1 393.2,1374.1" fill="none" stroke="#FAC078" stroke-width="3.8" stroke-linejoin="round" stroke-linecap="round"/>
<polyline points="170.0,1425.8 244.4,1425.8 318.8,1425.8 393.2,1425.8" fill="none" stroke="#EF8C1A" stroke-width="4.2" stroke-linejoin="round" stroke-linecap="round"/>
<polyline points="170.0,1322.3 244.4,1322.3 318.8,1322.3 393.2,1322.3" fill="none" stroke="#EF8C1A" stroke-width="4.2" stroke-linejoin="round" stroke-linecap="round"/>
<circle cx="170.0" cy="1477.6" r="6.0" fill="#FBB860"/>
<circle cx="244.4" cy="1477.6" r="6.0" fill="#FBB860"/>
<circle cx="318.8" cy="1477.6" r="6.0" fill="#FBB860"/>
<circle cx="393.2" cy="1477.6" r="6.0" fill="#FBB860"/>
<circle cx="170.0" cy="1374.1" r="6.0" fill="#FBB860"/>
<circle cx="244.4" cy="1374.1" r="6.0" fill="#FBB860"/>
<circle cx="318.8" cy="1374.1" r="6.0" fill="#FBB860"/>
<circle cx="393.2" cy="1374.1" r="6.0" fill="#FBB860"/>
<circle cx="170.0" cy="1425.8" r="6.0" fill="#FA9310"/>
<circle cx="244.4" cy="1425.8" r="6.0" fill="#FA9310"/>
<circle cx="318.8" cy="1425.8" r="6.0" fill="#FA9310"/>
<circle cx="393.2" cy="1425.8" r="6.0" fill="#FA9310"/>
<circle cx="170.0" cy="1322.3" r="6.0" fill="#FA9310"/>
<circle cx="244.4" cy="1322.3" r="6.0" fill="#FA9310"/>
<circle cx="318.8" cy="1322.3" r="6.0" fill="#FA9310"/>
<circle cx="393.2" cy="1322.3" r="6.0" fill="#FA9310"/>
<line x1="133.4" y1="1268.4" x2="133.4" y2="1531.5" stroke="#000" stroke-width="4.4"/>
<line x1="121.8" y1="1529.3" x2="395.4" y2="1529.3" stroke="#000" stroke-width="4.4"/>
<line x1="121.8" y1="1477.6" x2="133.4" y2="1477.6" stroke="#000" stroke-width="4.4"/>
<text x="112.4" y="1487.2" font-size="27.5" text-anchor="end">0</text>
<line x1="121.8" y1="1425.8" x2="133.4" y2="1425.8" stroke="#000" stroke-width="4.4"/>
<text x="112.4" y="1435.4" font-size="27.5" text-anchor="end">1</text>
<line x1="121.8" y1="1374.1" x2="133.4" y2="1374.1" stroke="#000" stroke-width="4.4"/>
<text x="112.4" y="1383.7" font-size="27.5" text-anchor="end">2</text>
<line x1="121.8" y1="1322.3" x2="133.4" y2="1322.3" stroke="#000" stroke-width="4.4"/>
<text x="112.4" y="1331.9" font-size="27.5" text-anchor="end">3</text>
<line x1="121.8" y1="1270.6" x2="133.4" y2="1270.6" stroke="#000" stroke-width="4.4"/>
<text x="112.4" y="1280.2" font-size="27.5" text-anchor="end">4</text>
<line x1="170.0" y1="1529.3" x2="170.0" y2="1542.0" stroke="#000" stroke-width="4.4"/>
<text x="169.5" y="1569.3" font-size="27.5" text-anchor="middle">1</text>
<line x1="244.4" y1="1529.3" x2="244.4" y2="1542.0" stroke="#000" stroke-width="4.4"/>
<text x="243.9" y="1569.3" font-size="27.5" text-anchor="middle">2</text>
<line x1="318.8" y1="1529.3" x2="318.8" y2="1542.0" stroke="#000" stroke-width="4.4"/>
<text x="318.3" y="1569.3" font-size="27.5" text-anchor="middle">3</text>
<line x1="393.2" y1="1529.3" x2="393.2" y2="1542.0" stroke="#000" stroke-width="4.4"/>
<text x="392.7" y="1569.3" font-size="27.5" text-anchor="middle">4</text>
<text x="282.1" y="1601.0" font-size="27.5" text-anchor="middle" textLength="103.5" lengthAdjust="spacingAndGlyphs">Test day</text>
<text x="81.9" y="1385.1" font-size="27.5" text-anchor="middle" transform="rotate(-90 81.9 1385.1)" textLength="160.0" lengthAdjust="spacingAndGlyphs">Winning time</text>
<polyline points="522.8,1477.6 580.3,1477.6 637.8,1477.6 695.4,1477.6 752.9,1477.6" fill="none" stroke="#FAC078" stroke-width="3.8" stroke-linejoin="round" stroke-linecap="round"/>
<polyline points="522.8,1374.1 580.3,1322.3 637.8,1322.3 695.4,1322.3 752.9,1322.3" fill="none" stroke="#FAC078" stroke-width="3.8" stroke-linejoin="round" stroke-linecap="round"/>
<polyline points="522.8,1425.8 580.3,1425.8 637.8,1425.8 695.4,1425.8 752.9,1425.8" fill="none" stroke="#EF8C1A" stroke-width="4.2" stroke-linejoin="round" stroke-linecap="round"/>
<polyline points="522.8,1322.3 580.3,1374.1 637.8,1374.1 695.4,1374.1 752.9,1374.1" fill="none" stroke="#EF8C1A" stroke-width="4.2" stroke-linejoin="round" stroke-linecap="round"/>
<circle cx="522.8" cy="1477.6" r="6.0" fill="#FBB860"/>
<circle cx="580.3" cy="1477.6" r="6.0" fill="#FBB860"/>
<circle cx="637.8" cy="1477.6" r="6.0" fill="#FBB860"/>
<circle cx="695.4" cy="1477.6" r="6.0" fill="#FBB860"/>
<circle cx="752.9" cy="1477.6" r="6.0" fill="#FBB860"/>
<circle cx="522.8" cy="1374.1" r="6.0" fill="#FBB860"/>
<circle cx="580.3" cy="1322.3" r="6.0" fill="#FBB860"/>
<circle cx="637.8" cy="1322.3" r="6.0" fill="#FBB860"/>
<circle cx="695.4" cy="1322.3" r="6.0" fill="#FBB860"/>
<circle cx="752.9" cy="1322.3" r="6.0" fill="#FBB860"/>
<circle cx="522.8" cy="1425.8" r="6.0" fill="#FA9310"/>
<circle cx="580.3" cy="1425.8" r="6.0" fill="#FA9310"/>
<circle cx="637.8" cy="1425.8" r="6.0" fill="#FA9310"/>
<circle cx="695.4" cy="1425.8" r="6.0" fill="#FA9310"/>
<circle cx="752.9" cy="1425.8" r="6.0" fill="#FA9310"/>
<circle cx="522.8" cy="1322.3" r="6.0" fill="#FA9310"/>
<circle cx="580.3" cy="1374.1" r="6.0" fill="#FA9310"/>
<circle cx="637.8" cy="1374.1" r="6.0" fill="#FA9310"/>
<circle cx="695.4" cy="1374.1" r="6.0" fill="#FA9310"/>
<circle cx="752.9" cy="1374.1" r="6.0" fill="#FA9310"/>
<line x1="493.6" y1="1268.4" x2="493.6" y2="1531.5" stroke="#000" stroke-width="4.4"/>
<line x1="482.0" y1="1529.3" x2="755.1" y2="1529.3" stroke="#000" stroke-width="4.4"/>
<line x1="482.0" y1="1477.6" x2="493.6" y2="1477.6" stroke="#000" stroke-width="4.4"/>
<text x="472.6" y="1487.2" font-size="27.5" text-anchor="end">0</text>
<line x1="482.0" y1="1425.8" x2="493.6" y2="1425.8" stroke="#000" stroke-width="4.4"/>
<text x="472.6" y="1435.4" font-size="27.5" text-anchor="end">1</text>
<line x1="482.0" y1="1374.1" x2="493.6" y2="1374.1" stroke="#000" stroke-width="4.4"/>
<text x="472.6" y="1383.7" font-size="27.5" text-anchor="end">2</text>
<line x1="482.0" y1="1322.3" x2="493.6" y2="1322.3" stroke="#000" stroke-width="4.4"/>
<text x="472.6" y="1331.9" font-size="27.5" text-anchor="end">3</text>
<line x1="482.0" y1="1270.6" x2="493.6" y2="1270.6" stroke="#000" stroke-width="4.4"/>
<text x="472.6" y="1280.2" font-size="27.5" text-anchor="end">4</text>
<line x1="522.8" y1="1529.3" x2="522.8" y2="1542.0" stroke="#000" stroke-width="4.4"/>
<text x="522.3" y="1569.3" font-size="27.5" text-anchor="middle">1</text>
<line x1="580.3" y1="1529.3" x2="580.3" y2="1542.0" stroke="#000" stroke-width="4.4"/>
<text x="579.8" y="1569.3" font-size="27.5" text-anchor="middle">2</text>
<line x1="637.8" y1="1529.3" x2="637.8" y2="1542.0" stroke="#000" stroke-width="4.4"/>
<text x="637.3" y="1569.3" font-size="27.5" text-anchor="middle">3</text>
<line x1="695.4" y1="1529.3" x2="695.4" y2="1542.0" stroke="#000" stroke-width="4.4"/>
<text x="694.9" y="1569.3" font-size="27.5" text-anchor="middle">4</text>
<line x1="752.9" y1="1529.3" x2="752.9" y2="1542.0" stroke="#000" stroke-width="4.4"/>
<text x="752.4" y="1569.3" font-size="27.5" text-anchor="middle">5</text>
<text x="639.8" y="1604.3" font-size="27.5" text-anchor="middle" textLength="103.5" lengthAdjust="spacingAndGlyphs">Test day</text>
<polyline points="883.7,1479.3 941.3,1479.3 999.0,1479.3 1056.6,1479.3 1114.2,1479.3" fill="none" stroke="#FAC078" stroke-width="3.8" stroke-linejoin="round" stroke-linecap="round"/>
<polyline points="883.7,1323.7 941.3,1323.7 999.0,1323.7 1056.6,1323.7 1114.2,1323.7" fill="none" stroke="#FAC078" stroke-width="3.8" stroke-linejoin="round" stroke-linecap="round"/>
<polyline points="883.7,1427.4 941.3,1375.6 999.0,1375.6 1056.6,1375.6 1114.2,1375.6" fill="none" stroke="#EF8C1A" stroke-width="4.2" stroke-linejoin="round" stroke-linecap="round"/>
<polyline points="883.7,1375.6 941.3,1427.4 999.0,1427.4 1056.6,1427.4 1114.2,1427.4" fill="none" stroke="#EF8C1A" stroke-width="4.2" stroke-linejoin="round" stroke-linecap="round"/>
<circle cx="883.7" cy="1479.3" r="6.0" fill="#FBB860"/>
<circle cx="941.3" cy="1479.3" r="6.0" fill="#FBB860"/>
<circle cx="999.0" cy="1479.3" r="6.0" fill="#FBB860"/>
<circle cx="1056.6" cy="1479.3" r="6.0" fill="#FBB860"/>
<circle cx="1114.2" cy="1479.3" r="6.0" fill="#FBB860"/>
<circle cx="883.7" cy="1323.7" r="6.0" fill="#FBB860"/>
<circle cx="941.3" cy="1323.7" r="6.0" fill="#FBB860"/>
<circle cx="999.0" cy="1323.7" r="6.0" fill="#FBB860"/>
<circle cx="1056.6" cy="1323.7" r="6.0" fill="#FBB860"/>
<circle cx="1114.2" cy="1323.7" r="6.0" fill="#FBB860"/>
<circle cx="883.7" cy="1427.4" r="6.0" fill="#FA9310"/>
<circle cx="941.3" cy="1375.6" r="6.0" fill="#FA9310"/>
<circle cx="999.0" cy="1375.6" r="6.0" fill="#FA9310"/>
<circle cx="1056.6" cy="1375.6" r="6.0" fill="#FA9310"/>
<circle cx="1114.2" cy="1375.6" r="6.0" fill="#FA9310"/>
<circle cx="883.7" cy="1375.6" r="6.0" fill="#FA9310"/>
<circle cx="941.3" cy="1427.4" r="6.0" fill="#FA9310"/>
<circle cx="999.0" cy="1427.4" r="6.0" fill="#FA9310"/>
<circle cx="1056.6" cy="1427.4" r="6.0" fill="#FA9310"/>
<circle cx="1114.2" cy="1427.4" r="6.0" fill="#FA9310"/>
<line x1="854.4" y1="1269.6" x2="854.4" y2="1533.4" stroke="#000" stroke-width="4.4"/>
<line x1="842.8" y1="1531.2" x2="1116.4" y2="1531.2" stroke="#000" stroke-width="4.4"/>
<line x1="842.8" y1="1479.3" x2="854.4" y2="1479.3" stroke="#000" stroke-width="4.4"/>
<text x="833.4" y="1488.9" font-size="27.5" text-anchor="end">0</text>
<line x1="842.8" y1="1427.4" x2="854.4" y2="1427.4" stroke="#000" stroke-width="4.4"/>
<text x="833.4" y="1437.0" font-size="27.5" text-anchor="end">1</text>
<line x1="842.8" y1="1375.6" x2="854.4" y2="1375.6" stroke="#000" stroke-width="4.4"/>
<text x="833.4" y="1385.2" font-size="27.5" text-anchor="end">2</text>
<line x1="842.8" y1="1323.7" x2="854.4" y2="1323.7" stroke="#000" stroke-width="4.4"/>
<text x="833.4" y="1333.3" font-size="27.5" text-anchor="end">3</text>
<line x1="842.8" y1="1271.8" x2="854.4" y2="1271.8" stroke="#000" stroke-width="4.4"/>
<text x="833.4" y="1281.4" font-size="27.5" text-anchor="end">4</text>
<line x1="883.7" y1="1531.2" x2="883.7" y2="1543.9" stroke="#000" stroke-width="4.4"/>
<text x="883.2" y="1571.2" font-size="27.5" text-anchor="middle">1</text>
<line x1="941.3" y1="1531.2" x2="941.3" y2="1543.9" stroke="#000" stroke-width="4.4"/>
<text x="940.8" y="1571.2" font-size="27.5" text-anchor="middle">2</text>
<line x1="999.0" y1="1531.2" x2="999.0" y2="1543.9" stroke="#000" stroke-width="4.4"/>
<text x="998.5" y="1571.2" font-size="27.5" text-anchor="middle">3</text>
<line x1="1056.6" y1="1531.2" x2="1056.6" y2="1543.9" stroke="#000" stroke-width="4.4"/>
<text x="1056.1" y="1571.2" font-size="27.5" text-anchor="middle">4</text>
<line x1="1114.2" y1="1531.2" x2="1114.2" y2="1543.9" stroke="#000" stroke-width="4.4"/>
<text x="1113.7" y="1571.2" font-size="27.5" text-anchor="middle">5</text>
<text x="999.0" y="1604.3" font-size="27.5" text-anchor="middle" textLength="103.5" lengthAdjust="spacingAndGlyphs">Test day</text>
<polyline points="1242.0,1323.7 1299.5,1323.7 1357.0,1323.7 1414.6,1323.7 1472.1,1323.7" fill="none" stroke="#FAC078" stroke-width="3.8" stroke-linejoin="round" stroke-linecap="round"/>
<polyline points="1242.0,1427.4 1299.5,1427.4 1357.0,1427.4 1414.6,1427.4 1472.1,1427.4" fill="none" stroke="#FAC078" stroke-width="3.8" stroke-linejoin="round" stroke-linecap="round"/>
<polyline points="1242.0,1427.4 1299.5,1479.3 1357.0,1479.3 1414.6,1479.3 1472.1,1479.3" fill="none" stroke="#FAC078" stroke-width="3.8" stroke-linejoin="round" stroke-linecap="round"/>
<polyline points="1242.0,1427.4 1299.5,1375.6 1357.0,1375.6 1414.6,1375.6 1472.1,1375.6" fill="none" stroke="#EF8C1A" stroke-width="4.2" stroke-linejoin="round" stroke-linecap="round"/>
<circle cx="1242.0" cy="1323.7" r="6.0" fill="#FBB860"/>
<circle cx="1299.5" cy="1323.7" r="6.0" fill="#FBB860"/>
<circle cx="1357.0" cy="1323.7" r="6.0" fill="#FBB860"/>
<circle cx="1414.6" cy="1323.7" r="6.0" fill="#FBB860"/>
<circle cx="1472.1" cy="1323.7" r="6.0" fill="#FBB860"/>
<circle cx="1242.0" cy="1427.4" r="6.0" fill="#FBB860"/>
<circle cx="1299.5" cy="1427.4" r="6.0" fill="#FBB860"/>
<circle cx="1357.0" cy="1427.4" r="6.0" fill="#FBB860"/>
<circle cx="1414.6" cy="1427.4" r="6.0" fill="#FBB860"/>
<circle cx="1472.1" cy="1427.4" r="6.0" fill="#FBB860"/>
<circle cx="1242.0" cy="1427.4" r="6.0" fill="#FBB860"/>
<circle cx="1299.5" cy="1479.3" r="6.0" fill="#FBB860"/>
<circle cx="1357.0" cy="1479.3" r="6.0" fill="#FBB860"/>
<circle cx="1414.6" cy="1479.3" r="6.0" fill="#FBB860"/>
<circle cx="1472.1" cy="1479.3" r="6.0" fill="#FBB860"/>
<circle cx="1242.0" cy="1427.4" r="6.0" fill="#FA9310"/>
<circle cx="1299.5" cy="1375.6" r="6.0" fill="#FA9310"/>
<circle cx="1357.0" cy="1375.6" r="6.0" fill="#FA9310"/>
<circle cx="1414.6" cy="1375.6" r="6.0" fill="#FA9310"/>
<circle cx="1472.1" cy="1375.6" r="6.0" fill="#FA9310"/>
<line x1="1213.1" y1="1269.6" x2="1213.1" y2="1533.4" stroke="#000" stroke-width="4.4"/>
<line x1="1201.5" y1="1531.2" x2="1474.3" y2="1531.2" stroke="#000" stroke-width="4.4"/>
<line x1="1201.5" y1="1479.3" x2="1213.1" y2="1479.3" stroke="#000" stroke-width="4.4"/>
<text x="1192.1" y="1488.9" font-size="27.5" text-anchor="end">0</text>
<line x1="1201.5" y1="1427.4" x2="1213.1" y2="1427.4" stroke="#000" stroke-width="4.4"/>
<text x="1192.1" y="1437.0" font-size="27.5" text-anchor="end">1</text>
<line x1="1201.5" y1="1375.6" x2="1213.1" y2="1375.6" stroke="#000" stroke-width="4.4"/>
<text x="1192.1" y="1385.2" font-size="27.5" text-anchor="end">2</text>
<line x1="1201.5" y1="1323.7" x2="1213.1" y2="1323.7" stroke="#000" stroke-width="4.4"/>
<text x="1192.1" y="1333.3" font-size="27.5" text-anchor="end">3</text>
<line x1="1201.5" y1="1271.8" x2="1213.1" y2="1271.8" stroke="#000" stroke-width="4.4"/>
<text x="1192.1" y="1281.4" font-size="27.5" text-anchor="end">4</text>
<line x1="1242.0" y1="1531.2" x2="1242.0" y2="1543.9" stroke="#000" stroke-width="4.4"/>
<text x="1241.5" y="1571.2" font-size="27.5" text-anchor="middle">1</text>
<line x1="1299.5" y1="1531.2" x2="1299.5" y2="1543.9" stroke="#000" stroke-width="4.4"/>
<text x="1299.0" y="1571.2" font-size="27.5" text-anchor="middle">2</text>
<line x1="1357.0" y1="1531.2" x2="1357.0" y2="1543.9" stroke="#000" stroke-width="4.4"/>
<text x="1356.5" y="1571.2" font-size="27.5" text-anchor="middle">3</text>
<line x1="1414.6" y1="1531.2" x2="1414.6" y2="1543.9" stroke="#000" stroke-width="4.4"/>
<text x="1414.1" y="1571.2" font-size="27.5" text-anchor="middle">4</text>
<line x1="1472.1" y1="1531.2" x2="1472.1" y2="1543.9" stroke="#000" stroke-width="4.4"/>
<text x="1471.6" y="1571.2" font-size="27.5" text-anchor="middle">5</text>
<text x="1357.0" y="1604.3" font-size="27.5" text-anchor="middle" textLength="103.5" lengthAdjust="spacingAndGlyphs">Test day</text>
<polyline points="1588.0,1377.0 1627.9,1428.9 1667.9,1428.9 1707.8,1428.9 1747.7,1428.9 1787.7,1428.9 1827.6,1428.9" fill="none" stroke="#FAC078" stroke-width="3.8" stroke-linejoin="round" stroke-linecap="round"/>
<polyline points="1588.0,1428.9 1627.9,1377.0 1667.9,1325.2 1707.8,1377.0 1747.7,1377.0 1787.7,1377.0 1827.6,1377.0" fill="none" stroke="#FAC078" stroke-width="3.8" stroke-linejoin="round" stroke-linecap="round"/>
<polyline points="1588.0,1480.7 1627.9,1480.7 1667.9,1480.7 1707.8,1480.7 1747.7,1480.7 1787.7,1480.7 1827.6,1480.7" fill="none" stroke="#EF8C1A" stroke-width="4.2" stroke-linejoin="round" stroke-linecap="round"/>
<polyline points="1588.0,1325.2 1627.9,1325.2 1667.9,1377.0 1707.8,1325.2 1747.7,1325.2 1787.7,1325.2 1827.6,1325.2" fill="none" stroke="#EF8C1A" stroke-width="4.2" stroke-linejoin="round" stroke-linecap="round"/>
<circle cx="1588.0" cy="1377.0" r="6.0" fill="#FBB860"/>
<circle cx="1627.9" cy="1428.9" r="6.0" fill="#FBB860"/>
<circle cx="1667.9" cy="1428.9" r="6.0" fill="#FBB860"/>
<circle cx="1707.8" cy="1428.9" r="6.0" fill="#FBB860"/>
<circle cx="1747.7" cy="1428.9" r="6.0" fill="#FBB860"/>
<circle cx="1787.7" cy="1428.9" r="6.0" fill="#FBB860"/>
<circle cx="1827.6" cy="1428.9" r="6.0" fill="#FBB860"/>
<circle cx="1588.0" cy="1428.9" r="6.0" fill="#FBB860"/>
<circle cx="1627.9" cy="1377.0" r="6.0" fill="#FBB860"/>
<circle cx="1667.9" cy="1325.2" r="6.0" fill="#FBB860"/>
<circle cx="1707.8" cy="1377.0" r="6.0" fill="#FBB860"/>
<circle cx="1747.7" cy="1377.0" r="6.0" fill="#FBB860"/>
<circle cx="1787.7" cy="1377.0" r="6.0" fill="#FBB860"/>
<circle cx="1827.6" cy="1377.0" r="6.0" fill="#FBB860"/>
<circle cx="1588.0" cy="1480.7" r="6.0" fill="#FA9310"/>
<circle cx="1627.9" cy="1480.7" r="6.0" fill="#FA9310"/>
<circle cx="1667.9" cy="1480.7" r="6.0" fill="#FA9310"/>
<circle cx="1707.8" cy="1480.7" r="6.0" fill="#FA9310"/>
<circle cx="1747.7" cy="1480.7" r="6.0" fill="#FA9310"/>
<circle cx="1787.7" cy="1480.7" r="6.0" fill="#FA9310"/>
<circle cx="1827.6" cy="1480.7" r="6.0" fill="#FA9310"/>
<circle cx="1588.0" cy="1325.2" r="6.0" fill="#FA9310"/>
<circle cx="1627.9" cy="1325.2" r="6.0" fill="#FA9310"/>
<circle cx="1667.9" cy="1377.0" r="6.0" fill="#FA9310"/>
<circle cx="1707.8" cy="1325.2" r="6.0" fill="#FA9310"/>
<circle cx="1747.7" cy="1325.2" r="6.0" fill="#FA9310"/>
<circle cx="1787.7" cy="1325.2" r="6.0" fill="#FA9310"/>
<circle cx="1827.6" cy="1325.2" r="6.0" fill="#FA9310"/>
<line x1="1568.5" y1="1271.1" x2="1568.5" y2="1534.8" stroke="#000" stroke-width="4.4"/>
<line x1="1556.9" y1="1532.6" x2="1829.8" y2="1532.6" stroke="#000" stroke-width="4.4"/>
<line x1="1556.9" y1="1480.7" x2="1568.5" y2="1480.7" stroke="#000" stroke-width="4.4"/>
<text x="1547.5" y="1490.3" font-size="27.5" text-anchor="end">0</text>
<line x1="1556.9" y1="1428.9" x2="1568.5" y2="1428.9" stroke="#000" stroke-width="4.4"/>
<text x="1547.5" y="1438.5" font-size="27.5" text-anchor="end">1</text>
<line x1="1556.9" y1="1377.0" x2="1568.5" y2="1377.0" stroke="#000" stroke-width="4.4"/>
<text x="1547.5" y="1386.6" font-size="27.5" text-anchor="end">2</text>
<line x1="1556.9" y1="1325.2" x2="1568.5" y2="1325.2" stroke="#000" stroke-width="4.4"/>
<text x="1547.5" y="1334.8" font-size="27.5" text-anchor="end">3</text>
<line x1="1556.9" y1="1273.3" x2="1568.5" y2="1273.3" stroke="#000" stroke-width="4.4"/>
<text x="1547.5" y="1282.9" font-size="27.5" text-anchor="end">4</text>
<line x1="1588.0" y1="1532.6" x2="1588.0" y2="1545.3" stroke="#000" stroke-width="4.4"/>
<text x="1587.5" y="1572.6" font-size="27.5" text-anchor="middle">1</text>
<line x1="1627.9" y1="1532.6" x2="1627.9" y2="1545.3" stroke="#000" stroke-width="4.4"/>
<text x="1627.4" y="1572.6" font-size="27.5" text-anchor="middle">2</text>
<line x1="1667.9" y1="1532.6" x2="1667.9" y2="1545.3" stroke="#000" stroke-width="4.4"/>
<text x="1667.4" y="1572.6" font-size="27.5" text-anchor="middle">3</text>
<line x1="1707.8" y1="1532.6" x2="1707.8" y2="1545.3" stroke="#000" stroke-width="4.4"/>
<text x="1707.3" y="1572.6" font-size="27.5" text-anchor="middle">4</text>
<line x1="1747.7" y1="1532.6" x2="1747.7" y2="1545.3" stroke="#000" stroke-width="4.4"/>
<text x="1747.2" y="1572.6" font-size="27.5" text-anchor="middle">5</text>
<line x1="1787.7" y1="1532.6" x2="1787.7" y2="1545.3" stroke="#000" stroke-width="4.4"/>
<text x="1787.2" y="1572.6" font-size="27.5" text-anchor="middle">6</text>
<line x1="1827.6" y1="1532.6" x2="1827.6" y2="1545.3" stroke="#000" stroke-width="4.4"/>
<text x="1827.1" y="1572.6" font-size="27.5" text-anchor="middle">7</text>
<text x="1719.3" y="1601.6" font-size="27.5" text-anchor="middle" textLength="103.5" lengthAdjust="spacingAndGlyphs">Test day</text>
<text x="5.0" y="1650.0" font-size="49" fill="#231F20" font-weight="bold">i</text>
<polyline points="169.7,1876.9 243.9,1876.9 318.2,1876.9 392.4,1876.9" fill="none" stroke="#F78DC0" stroke-width="3.8" stroke-linejoin="round" stroke-linecap="round"/>
<polyline points="169.7,1722.2 243.9,1722.2 318.2,1722.2 392.4,1722.2" fill="none" stroke="#F78DC0" stroke-width="3.8" stroke-linejoin="round" stroke-linecap="round"/>
<polyline points="169.7,1825.3 243.9,1825.3 318.2,1825.3 392.4,1825.3" fill="none" stroke="#F0308A" stroke-width="4.2" stroke-linejoin="round" stroke-linecap="round"/>
<polyline points="169.7,1773.8 243.9,1773.8 318.2,1773.8 392.4,1773.8" fill="none" stroke="#F0308A" stroke-width="4.2" stroke-linejoin="round" stroke-linecap="round"/>
<circle cx="169.7" cy="1876.9" r="6.0" fill="#F57FB8"/>
<circle cx="243.9" cy="1876.9" r="6.0" fill="#F57FB8"/>
<circle cx="318.2" cy="1876.9" r="6.0" fill="#F57FB8"/>
<circle cx="392.4" cy="1876.9" r="6.0" fill="#F57FB8"/>
<circle cx="169.7" cy="1722.2" r="6.0" fill="#F57FB8"/>
<circle cx="243.9" cy="1722.2" r="6.0" fill="#F57FB8"/>
<circle cx="318.2" cy="1722.2" r="6.0" fill="#F57FB8"/>
<circle cx="392.4" cy="1722.2" r="6.0" fill="#F57FB8"/>
<circle cx="169.7" cy="1825.3" r="6.0" fill="#FA2F8F"/>
<circle cx="243.9" cy="1825.3" r="6.0" fill="#FA2F8F"/>
<circle cx="318.2" cy="1825.3" r="6.0" fill="#FA2F8F"/>
<circle cx="392.4" cy="1825.3" r="6.0" fill="#FA2F8F"/>
<circle cx="169.7" cy="1773.8" r="6.0" fill="#FA2F8F"/>
<circle cx="243.9" cy="1773.8" r="6.0" fill="#FA2F8F"/>
<circle cx="318.2" cy="1773.8" r="6.0" fill="#FA2F8F"/>
<circle cx="392.4" cy="1773.8" r="6.0" fill="#FA2F8F"/>
<line x1="132.6" y1="1668.4" x2="132.6" y2="1930.7" stroke="#000" stroke-width="4.4"/>
<line x1="121.0" y1="1928.5" x2="394.6" y2="1928.5" stroke="#000" stroke-width="4.4"/>
<line x1="121.0" y1="1876.9" x2="132.6" y2="1876.9" stroke="#000" stroke-width="4.4"/>
<text x="111.6" y="1886.5" font-size="27.5" text-anchor="end">0</text>
<line x1="121.0" y1="1825.3" x2="132.6" y2="1825.3" stroke="#000" stroke-width="4.4"/>
<text x="111.6" y="1834.9" font-size="27.5" text-anchor="end">1</text>
<line x1="121.0" y1="1773.8" x2="132.6" y2="1773.8" stroke="#000" stroke-width="4.4"/>
<text x="111.6" y="1783.4" font-size="27.5" text-anchor="end">2</text>
<line x1="121.0" y1="1722.2" x2="132.6" y2="1722.2" stroke="#000" stroke-width="4.4"/>
<text x="111.6" y="1731.8" font-size="27.5" text-anchor="end">3</text>
<line x1="121.0" y1="1670.6" x2="132.6" y2="1670.6" stroke="#000" stroke-width="4.4"/>
<text x="111.6" y="1680.2" font-size="27.5" text-anchor="end">4</text>
<line x1="169.7" y1="1928.5" x2="169.7" y2="1941.2" stroke="#000" stroke-width="4.4"/>
<text x="169.2" y="1968.5" font-size="27.5" text-anchor="middle">1</text>
<line x1="243.9" y1="1928.5" x2="243.9" y2="1941.2" stroke="#000" stroke-width="4.4"/>
<text x="243.4" y="1968.5" font-size="27.5" text-anchor="middle">2</text>
<line x1="318.2" y1="1928.5" x2="318.2" y2="1941.2" stroke="#000" stroke-width="4.4"/>
<text x="317.7" y="1968.5" font-size="27.5" text-anchor="middle">3</text>
<line x1="392.4" y1="1928.5" x2="392.4" y2="1941.2" stroke="#000" stroke-width="4.4"/>
<text x="391.9" y="1968.5" font-size="27.5" text-anchor="middle">4</text>
<text x="282.5" y="1999.7" font-size="27.5" text-anchor="middle" textLength="103.5" lengthAdjust="spacingAndGlyphs">Test day</text>
<text x="81.1" y="1784.8" font-size="27.5" text-anchor="middle" transform="rotate(-90 81.1 1784.8)" textLength="160.0" lengthAdjust="spacingAndGlyphs">Winning time</text>
<polyline points="522.0,1723.3 579.5,1723.3 637.0,1723.3 694.6,1723.3 752.1,1723.3" fill="none" stroke="#F78DC0" stroke-width="3.8" stroke-linejoin="round" stroke-linecap="round"/>
<polyline points="522.0,1826.6 579.5,1774.9 637.0,1774.9 694.6,1774.9 752.1,1774.9" fill="none" stroke="#F78DC0" stroke-width="3.8" stroke-linejoin="round" stroke-linecap="round"/>
<polyline points="522.0,1826.6 579.5,1878.2 637.0,1878.2 694.6,1878.2 752.1,1878.2" fill="none" stroke="#F78DC0" stroke-width="3.8" stroke-linejoin="round" stroke-linecap="round"/>
<polyline points="522.0,1826.6 579.5,1826.6 637.0,1826.6 694.6,1826.6 752.1,1826.6" fill="none" stroke="#F0308A" stroke-width="4.2" stroke-linejoin="round" stroke-linecap="round"/>
<circle cx="522.0" cy="1723.3" r="6.0" fill="#F57FB8"/>
<circle cx="579.5" cy="1723.3" r="6.0" fill="#F57FB8"/>
<circle cx="637.0" cy="1723.3" r="6.0" fill="#F57FB8"/>
<circle cx="694.6" cy="1723.3" r="6.0" fill="#F57FB8"/>
<circle cx="752.1" cy="1723.3" r="6.0" fill="#F57FB8"/>
<circle cx="522.0" cy="1826.6" r="6.0" fill="#F57FB8"/>
<circle cx="579.5" cy="1774.9" r="6.0" fill="#F57FB8"/>
<circle cx="637.0" cy="1774.9" r="6.0" fill="#F57FB8"/>
<circle cx="694.6" cy="1774.9" r="6.0" fill="#F57FB8"/>
<circle cx="752.1" cy="1774.9" r="6.0" fill="#F57FB8"/>
<circle cx="522.0" cy="1826.6" r="6.0" fill="#F57FB8"/>
<circle cx="579.5" cy="1878.2" r="6.0" fill="#F57FB8"/>
<circle cx="637.0" cy="1878.2" r="6.0" fill="#F57FB8"/>
<circle cx="694.6" cy="1878.2" r="6.0" fill="#F57FB8"/>
<circle cx="752.1" cy="1878.2" r="6.0" fill="#F57FB8"/>
<circle cx="522.0" cy="1826.6" r="6.0" fill="#FA2F8F"/>
<circle cx="579.5" cy="1826.6" r="6.0" fill="#FA2F8F"/>
<circle cx="637.0" cy="1826.6" r="6.0" fill="#FA2F8F"/>
<circle cx="694.6" cy="1826.6" r="6.0" fill="#FA2F8F"/>
<circle cx="752.1" cy="1826.6" r="6.0" fill="#FA2F8F"/>
<line x1="493.1" y1="1669.4" x2="493.1" y2="1932.1" stroke="#000" stroke-width="4.4"/>
<line x1="481.5" y1="1929.9" x2="754.3" y2="1929.9" stroke="#000" stroke-width="4.4"/>
<line x1="481.5" y1="1878.2" x2="493.1" y2="1878.2" stroke="#000" stroke-width="4.4"/>
<text x="472.1" y="1887.8" font-size="27.5" text-anchor="end">0</text>
<line x1="481.5" y1="1826.6" x2="493.1" y2="1826.6" stroke="#000" stroke-width="4.4"/>
<text x="472.1" y="1836.2" font-size="27.5" text-anchor="end">1</text>
<line x1="481.5" y1="1774.9" x2="493.1" y2="1774.9" stroke="#000" stroke-width="4.4"/>
<text x="472.1" y="1784.5" font-size="27.5" text-anchor="end">2</text>
<line x1="481.5" y1="1723.3" x2="493.1" y2="1723.3" stroke="#000" stroke-width="4.4"/>
<text x="472.1" y="1732.9" font-size="27.5" text-anchor="end">3</text>
<line x1="481.5" y1="1671.6" x2="493.1" y2="1671.6" stroke="#000" stroke-width="4.4"/>
<text x="472.1" y="1681.2" font-size="27.5" text-anchor="end">4</text>
<line x1="522.0" y1="1929.9" x2="522.0" y2="1942.6" stroke="#000" stroke-width="4.4"/>
<text x="521.5" y="1969.9" font-size="27.5" text-anchor="middle">1</text>
<line x1="579.5" y1="1929.9" x2="579.5" y2="1942.6" stroke="#000" stroke-width="4.4"/>
<text x="579.0" y="1969.9" font-size="27.5" text-anchor="middle">2</text>
<line x1="637.0" y1="1929.9" x2="637.0" y2="1942.6" stroke="#000" stroke-width="4.4"/>
<text x="636.5" y="1969.9" font-size="27.5" text-anchor="middle">3</text>
<line x1="694.6" y1="1929.9" x2="694.6" y2="1942.6" stroke="#000" stroke-width="4.4"/>
<text x="694.1" y="1969.9" font-size="27.5" text-anchor="middle">4</text>
<line x1="752.1" y1="1929.9" x2="752.1" y2="1942.6" stroke="#000" stroke-width="4.4"/>
<text x="751.6" y="1969.9" font-size="27.5" text-anchor="middle">5</text>
<text x="639.5" y="2003.8" font-size="27.5" text-anchor="middle" textLength="103.5" lengthAdjust="spacingAndGlyphs">Test day</text>
<polyline points="882.0,1878.2 939.4,1878.2 996.8,1878.2 1054.1,1878.2 1111.5,1878.2" fill="none" stroke="#F78DC0" stroke-width="3.8" stroke-linejoin="round" stroke-linecap="round"/>
<polyline points="882.0,1723.1 939.4,1723.1 996.8,1723.1 1054.1,1723.1 1111.5,1723.1" fill="none" stroke="#F78DC0" stroke-width="3.8" stroke-linejoin="round" stroke-linecap="round"/>
<polyline points="882.0,1826.5 939.4,1774.8 996.8,1774.8 1054.1,1774.8 1111.5,1774.8" fill="none" stroke="#F0308A" stroke-width="4.2" stroke-linejoin="round" stroke-linecap="round"/>
<polyline points="882.0,1774.8 939.4,1826.5 996.8,1826.5 1054.1,1826.5 1111.5,1826.5" fill="none" stroke="#F0308A" stroke-width="4.2" stroke-linejoin="round" stroke-linecap="round"/>
<circle cx="882.0" cy="1878.2" r="6.0" fill="#F57FB8"/>
<circle cx="939.4" cy="1878.2" r="6.0" fill="#F57FB8"/>
<circle cx="996.8" cy="1878.2" r="6.0" fill="#F57FB8"/>
<circle cx="1054.1" cy="1878.2" r="6.0" fill="#F57FB8"/>
<circle cx="1111.5" cy="1878.2" r="6.0" fill="#F57FB8"/>
<circle cx="882.0" cy="1723.1" r="6.0" fill="#F57FB8"/>
<circle cx="939.4" cy="1723.1" r="6.0" fill="#F57FB8"/>
<circle cx="996.8" cy="1723.1" r="6.0" fill="#F57FB8"/>
<circle cx="1054.1" cy="1723.1" r="6.0" fill="#F57FB8"/>
<circle cx="1111.5" cy="1723.1" r="6.0" fill="#F57FB8"/>
<circle cx="882.0" cy="1826.5" r="6.0" fill="#FA2F8F"/>
<circle cx="939.4" cy="1774.8" r="6.0" fill="#FA2F8F"/>
<circle cx="996.8" cy="1774.8" r="6.0" fill="#FA2F8F"/>
<circle cx="1054.1" cy="1774.8" r="6.0" fill="#FA2F8F"/>
<circle cx="1111.5" cy="1774.8" r="6.0" fill="#FA2F8F"/>
<circle cx="882.0" cy="1774.8" r="6.0" fill="#FA2F8F"/>
<circle cx="939.4" cy="1826.5" r="6.0" fill="#FA2F8F"/>
<circle cx="996.8" cy="1826.5" r="6.0" fill="#FA2F8F"/>
<circle cx="1054.1" cy="1826.5" r="6.0" fill="#FA2F8F"/>
<circle cx="1111.5" cy="1826.5" r="6.0" fill="#FA2F8F"/>
<line x1="853.3" y1="1669.2" x2="853.3" y2="1932.1" stroke="#000" stroke-width="4.4"/>
<line x1="841.7" y1="1929.9" x2="1113.7" y2="1929.9" stroke="#000" stroke-width="4.4"/>
<line x1="841.7" y1="1878.2" x2="853.3" y2="1878.2" stroke="#000" stroke-width="4.4"/>
<text x="832.3" y="1887.8" font-size="27.5" text-anchor="end">0</text>
<line x1="841.7" y1="1826.5" x2="853.3" y2="1826.5" stroke="#000" stroke-width="4.4"/>
<text x="832.3" y="1836.1" font-size="27.5" text-anchor="end">1</text>
<line x1="841.7" y1="1774.8" x2="853.3" y2="1774.8" stroke="#000" stroke-width="4.4"/>
<text x="832.3" y="1784.4" font-size="27.5" text-anchor="end">2</text>
<line x1="841.7" y1="1723.1" x2="853.3" y2="1723.1" stroke="#000" stroke-width="4.4"/>
<text x="832.3" y="1732.7" font-size="27.5" text-anchor="end">3</text>
<line x1="841.7" y1="1671.4" x2="853.3" y2="1671.4" stroke="#000" stroke-width="4.4"/>
<text x="832.3" y="1681.0" font-size="27.5" text-anchor="end">4</text>
<line x1="882.0" y1="1929.9" x2="882.0" y2="1942.6" stroke="#000" stroke-width="4.4"/>
<text x="881.5" y="1969.9" font-size="27.5" text-anchor="middle">1</text>
<line x1="939.4" y1="1929.9" x2="939.4" y2="1942.6" stroke="#000" stroke-width="4.4"/>
<text x="938.9" y="1969.9" font-size="27.5" text-anchor="middle">2</text>
<line x1="996.8" y1="1929.9" x2="996.8" y2="1942.6" stroke="#000" stroke-width="4.4"/>
<text x="996.2" y="1969.9" font-size="27.5" text-anchor="middle">3</text>
<line x1="1054.1" y1="1929.9" x2="1054.1" y2="1942.6" stroke="#000" stroke-width="4.4"/>
<text x="1053.6" y="1969.9" font-size="27.5" text-anchor="middle">4</text>
<line x1="1111.5" y1="1929.9" x2="1111.5" y2="1942.6" stroke="#000" stroke-width="4.4"/>
<text x="1111.0" y="1969.9" font-size="27.5" text-anchor="middle">5</text>
<text x="998.8" y="2003.4" font-size="27.5" text-anchor="middle" textLength="103.5" lengthAdjust="spacingAndGlyphs">Test day</text>
<polyline points="1231.5,1774.1 1271.4,1774.1 1311.2,1774.1 1351.1,1774.1 1391.0,1774.1 1430.8,1774.1 1470.7,1774.1" fill="none" stroke="#F78DC0" stroke-width="3.8" stroke-linejoin="round" stroke-linecap="round"/>
<polyline points="1231.5,1877.6 1271.4,1877.6 1311.2,1825.8 1351.1,1877.6 1391.0,1877.6 1430.8,1877.6 1470.7,1877.6" fill="none" stroke="#F78DC0" stroke-width="3.8" stroke-linejoin="round" stroke-linecap="round"/>
<polyline points="1231.5,1825.8 1271.4,1825.8 1311.2,1877.6 1351.1,1825.8 1391.0,1825.8 1430.8,1825.8 1470.7,1825.8" fill="none" stroke="#F0308A" stroke-width="4.2" stroke-linejoin="round" stroke-linecap="round"/>
<circle cx="1231.5" cy="1774.1" r="6.0" fill="#F57FB8"/>
<circle cx="1271.4" cy="1774.1" r="6.0" fill="#F57FB8"/>
<circle cx="1311.2" cy="1774.1" r="6.0" fill="#F57FB8"/>
<circle cx="1351.1" cy="1774.1" r="6.0" fill="#F57FB8"/>
<circle cx="1391.0" cy="1774.1" r="6.0" fill="#F57FB8"/>
<circle cx="1430.8" cy="1774.1" r="6.0" fill="#F57FB8"/>
<circle cx="1470.7" cy="1774.1" r="6.0" fill="#F57FB8"/>
<circle cx="1231.5" cy="1877.6" r="6.0" fill="#F57FB8"/>
<circle cx="1271.4" cy="1877.6" r="6.0" fill="#F57FB8"/>
<circle cx="1311.2" cy="1825.8" r="6.0" fill="#F57FB8"/>
<circle cx="1351.1" cy="1877.6" r="6.0" fill="#F57FB8"/>
<circle cx="1391.0" cy="1877.6" r="6.0" fill="#F57FB8"/>
<circle cx="1430.8" cy="1877.6" r="6.0" fill="#F57FB8"/>
<circle cx="1470.7" cy="1877.6" r="6.0" fill="#F57FB8"/>
<circle cx="1231.5" cy="1825.8" r="6.0" fill="#FA2F8F"/>
<circle cx="1271.4" cy="1825.8" r="6.0" fill="#FA2F8F"/>
<circle cx="1311.2" cy="1877.6" r="6.0" fill="#FA2F8F"/>
<circle cx="1351.1" cy="1825.8" r="6.0" fill="#FA2F8F"/>
<circle cx="1391.0" cy="1825.8" r="6.0" fill="#FA2F8F"/>
<circle cx="1430.8" cy="1825.8" r="6.0" fill="#FA2F8F"/>
<circle cx="1470.7" cy="1825.8" r="6.0" fill="#FA2F8F"/>
<line x1="1211.9" y1="1668.4" x2="1211.9" y2="1931.5" stroke="#000" stroke-width="4.4"/>
<line x1="1200.3" y1="1929.3" x2="1472.9" y2="1929.3" stroke="#000" stroke-width="4.4"/>
<line x1="1200.3" y1="1877.6" x2="1211.9" y2="1877.6" stroke="#000" stroke-width="4.4"/>
<text x="1190.9" y="1887.2" font-size="27.5" text-anchor="end">0</text>
<line x1="1200.3" y1="1825.8" x2="1211.9" y2="1825.8" stroke="#000" stroke-width="4.4"/>
<text x="1190.9" y="1835.4" font-size="27.5" text-anchor="end">1</text>
<line x1="1200.3" y1="1774.1" x2="1211.9" y2="1774.1" stroke="#000" stroke-width="4.4"/>
<text x="1190.9" y="1783.7" font-size="27.5" text-anchor="end">2</text>
<line x1="1200.3" y1="1722.3" x2="1211.9" y2="1722.3" stroke="#000" stroke-width="4.4"/>
<text x="1190.9" y="1731.9" font-size="27.5" text-anchor="end">3</text>
<line x1="1200.3" y1="1670.6" x2="1211.9" y2="1670.6" stroke="#000" stroke-width="4.4"/>
<text x="1190.9" y="1680.2" font-size="27.5" text-anchor="end">4</text>
<line x1="1231.5" y1="1929.3" x2="1231.5" y2="1942.0" stroke="#000" stroke-width="4.4"/>
<text x="1231.0" y="1969.3" font-size="27.5" text-anchor="middle">1</text>
<line x1="1271.4" y1="1929.3" x2="1271.4" y2="1942.0" stroke="#000" stroke-width="4.4"/>
<text x="1270.9" y="1969.3" font-size="27.5" text-anchor="middle">2</text>
<line x1="1311.2" y1="1929.3" x2="1311.2" y2="1942.0" stroke="#000" stroke-width="4.4"/>
<text x="1310.7" y="1969.3" font-size="27.5" text-anchor="middle">3</text>
<line x1="1351.1" y1="1929.3" x2="1351.1" y2="1942.0" stroke="#000" stroke-width="4.4"/>
<text x="1350.6" y="1969.3" font-size="27.5" text-anchor="middle">4</text>
<line x1="1391.0" y1="1929.3" x2="1391.0" y2="1942.0" stroke="#000" stroke-width="4.4"/>
<text x="1390.5" y="1969.3" font-size="27.5" text-anchor="middle">5</text>
<line x1="1430.8" y1="1929.3" x2="1430.8" y2="1942.0" stroke="#000" stroke-width="4.4"/>
<text x="1430.3" y="1969.3" font-size="27.5" text-anchor="middle">6</text>
<line x1="1470.7" y1="1929.3" x2="1470.7" y2="1942.0" stroke="#000" stroke-width="4.4"/>
<text x="1470.2" y="1969.3" font-size="27.5" text-anchor="middle">7</text>
<text x="1357.7" y="2004.3" font-size="27.5" text-anchor="middle" textLength="103.5" lengthAdjust="spacingAndGlyphs">Test day</text>
<polyline points="1592.9,1877.6 1640.0,1877.6 1687.1,1877.6 1734.2,1877.6 1781.3,1877.6 1828.4,1877.6" fill="none" stroke="#F78DC0" stroke-width="3.8" stroke-linejoin="round" stroke-linecap="round"/>
<polyline points="1592.9,1722.3 1640.0,1722.3 1687.1,1722.3 1734.2,1722.3 1781.3,1722.3 1828.4,1722.3" fill="none" stroke="#F78DC0" stroke-width="3.8" stroke-linejoin="round" stroke-linecap="round"/>
<polyline points="1592.9,1825.8 1640.0,1825.8 1687.1,1774.1 1734.2,1774.1 1781.3,1774.1 1828.4,1774.1" fill="none" stroke="#F0308A" stroke-width="4.2" stroke-linejoin="round" stroke-linecap="round"/>
<polyline points="1592.9,1774.1 1640.0,1774.1 1687.1,1825.8 1734.2,1825.8 1781.3,1825.8 1828.4,1825.8" fill="none" stroke="#F0308A" stroke-width="4.2" stroke-linejoin="round" stroke-linecap="round"/>
<circle cx="1592.9" cy="1877.6" r="6.0" fill="#F57FB8"/>
<circle cx="1640.0" cy="1877.6" r="6.0" fill="#F57FB8"/>
<circle cx="1687.1" cy="1877.6" r="6.0" fill="#F57FB8"/>
<circle cx="1734.2" cy="1877.6" r="6.0" fill="#F57FB8"/>
<circle cx="1781.3" cy="1877.6" r="6.0" fill="#F57FB8"/>
<circle cx="1828.4" cy="1877.6" r="6.0" fill="#F57FB8"/>
<circle cx="1592.9" cy="1722.3" r="6.0" fill="#F57FB8"/>
<circle cx="1640.0" cy="1722.3" r="6.0" fill="#F57FB8"/>
<circle cx="1687.1" cy="1722.3" r="6.0" fill="#F57FB8"/>
<circle cx="1734.2" cy="1722.3" r="6.0" fill="#F57FB8"/>
<circle cx="1781.3" cy="1722.3" r="6.0" fill="#F57FB8"/>
<circle cx="1828.4" cy="1722.3" r="6.0" fill="#F57FB8"/>
<circle cx="1592.9" cy="1825.8" r="6.0" fill="#FA2F8F"/>
<circle cx="1640.0" cy="1825.8" r="6.0" fill="#FA2F8F"/>
<circle cx="1687.1" cy="1774.1" r="6.0" fill="#FA2F8F"/>
<circle cx="1734.2" cy="1774.1" r="6.0" fill="#FA2F8F"/>
<circle cx="1781.3" cy="1774.1" r="6.0" fill="#FA2F8F"/>
<circle cx="1828.4" cy="1774.1" r="6.0" fill="#FA2F8F"/>
<circle cx="1592.9" cy="1774.1" r="6.0" fill="#FA2F8F"/>
<circle cx="1640.0" cy="1774.1" r="6.0" fill="#FA2F8F"/>
<circle cx="1687.1" cy="1825.8" r="6.0" fill="#FA2F8F"/>
<circle cx="1734.2" cy="1825.8" r="6.0" fill="#FA2F8F"/>
<circle cx="1781.3" cy="1825.8" r="6.0" fill="#FA2F8F"/>
<circle cx="1828.4" cy="1825.8" r="6.0" fill="#FA2F8F"/>
<line x1="1569.0" y1="1668.4" x2="1569.0" y2="1931.5" stroke="#000" stroke-width="4.4"/>
<line x1="1557.4" y1="1929.3" x2="1830.6" y2="1929.3" stroke="#000" stroke-width="4.4"/>
<line x1="1557.4" y1="1877.6" x2="1569.0" y2="1877.6" stroke="#000" stroke-width="4.4"/>
<text x="1548.0" y="1887.2" font-size="27.5" text-anchor="end">0</text>
<line x1="1557.4" y1="1825.8" x2="1569.0" y2="1825.8" stroke="#000" stroke-width="4.4"/>
<text x="1548.0" y="1835.4" font-size="27.5" text-anchor="end">1</text>
<line x1="1557.4" y1="1774.1" x2="1569.0" y2="1774.1" stroke="#000" stroke-width="4.4"/>
<text x="1548.0" y="1783.7" font-size="27.5" text-anchor="end">2</text>
<line x1="1557.4" y1="1722.3" x2="1569.0" y2="1722.3" stroke="#000" stroke-width="4.4"/>
<text x="1548.0" y="1731.9" font-size="27.5" text-anchor="end">3</text>
<line x1="1557.4" y1="1670.6" x2="1569.0" y2="1670.6" stroke="#000" stroke-width="4.4"/>
<text x="1548.0" y="1680.2" font-size="27.5" text-anchor="end">4</text>
<line x1="1592.9" y1="1929.3" x2="1592.9" y2="1942.0" stroke="#000" stroke-width="4.4"/>
<text x="1592.4" y="1969.3" font-size="27.5" text-anchor="middle">1</text>
<line x1="1640.0" y1="1929.3" x2="1640.0" y2="1942.0" stroke="#000" stroke-width="4.4"/>
<text x="1639.5" y="1969.3" font-size="27.5" text-anchor="middle">2</text>
<line x1="1687.1" y1="1929.3" x2="1687.1" y2="1942.0" stroke="#000" stroke-width="4.4"/>
<text x="1686.6" y="1969.3" font-size="27.5" text-anchor="middle">3</text>
<line x1="1734.2" y1="1929.3" x2="1734.2" y2="1942.0" stroke="#000" stroke-width="4.4"/>
<text x="1733.7" y="1969.3" font-size="27.5" text-anchor="middle">4</text>
<line x1="1781.3" y1="1929.3" x2="1781.3" y2="1942.0" stroke="#000" stroke-width="4.4"/>
<text x="1780.8" y="1969.3" font-size="27.5" text-anchor="middle">5</text>
<line x1="1828.4" y1="1929.3" x2="1828.4" y2="1942.0" stroke="#000" stroke-width="4.4"/>
<text x="1827.9" y="1969.3" font-size="27.5" text-anchor="middle">6</text>
<text x="1719.7" y="2001.0" font-size="27.5" text-anchor="middle" textLength="103.5" lengthAdjust="spacingAndGlyphs">Test day</text>
<text x="3.0" y="2126.0" font-size="49" fill="#231F20" font-weight="bold">j</text>
<text x="280.3" y="2114.0" font-size="29" fill="#E8308C" textLength="76.0" lengthAdjust="spacingAndGlyphs">hM4D</text>
<line x1="203.8" y1="2420.6" x2="203.8" y2="2439.0" stroke="#C0C0C0" stroke-width="3.8" stroke-linecap="round"/>
<rect x="182.1" y="2439.0" width="43.8" height="120.0" fill="#FF9300" stroke="#C0C0C0" stroke-width="4"/>
<line x1="284.2" y1="2330.9" x2="284.2" y2="2363.2" stroke="#C0C0C0" stroke-width="3.8" stroke-linecap="round"/>
<rect x="262.7" y="2363.2" width="43.8" height="195.8" fill="#005493" stroke="#C0C0C0" stroke-width="4"/>
<line x1="394.8" y1="2381.8" x2="394.8" y2="2437.0" stroke="#E61E28" stroke-width="3.8" stroke-linecap="round"/>
<rect x="372.2" y="2437.0" width="44.9" height="122.0" fill="#FF9300" stroke="#E61E28" stroke-width="4"/>
<line x1="472.0" y1="2451.1" x2="472.0" y2="2477.2" stroke="#E61E28" stroke-width="3.8" stroke-linecap="round"/>
<rect x="450.0" y="2477.2" width="44.0" height="81.8" fill="#005493" stroke="#E61E28" stroke-width="4"/>
<line x1="134.6" y1="2150.1" x2="134.6" y2="2561.2" stroke="#000" stroke-width="4.4"/>
<line x1="120.8" y1="2559.0" x2="541.3" y2="2559.0" stroke="#000" stroke-width="4.4"/>
<line x1="120.8" y1="2559.0" x2="134.6" y2="2559.0" stroke="#000" stroke-width="4.4"/>
<text x="110.6" y="2568.8" font-size="28.5" text-anchor="end">0</text>
<line x1="120.8" y1="2457.3" x2="134.6" y2="2457.3" stroke="#000" stroke-width="4.4"/>
<text x="110.6" y="2467.1" font-size="28.5" text-anchor="end">20</text>
<line x1="120.8" y1="2355.7" x2="134.6" y2="2355.7" stroke="#000" stroke-width="4.4"/>
<text x="110.6" y="2365.5" font-size="28.5" text-anchor="end">40</text>
<line x1="120.8" y1="2254.0" x2="134.6" y2="2254.0" stroke="#000" stroke-width="4.4"/>
<text x="110.6" y="2263.8" font-size="28.5" text-anchor="end">60</text>
<line x1="120.8" y1="2152.3" x2="134.6" y2="2152.3" stroke="#000" stroke-width="4.4"/>
<text x="110.6" y="2162.1" font-size="28.5" text-anchor="end">80</text>
<text x="58.3" y="2358.5" font-size="29" text-anchor="middle" transform="rotate(-90 58.3 2358.5)" textLength="241.0" lengthAdjust="spacingAndGlyphs">Number of choices</text>
<circle cx="187.1" cy="2401.6" r="8" fill="#E8950E"/>
<circle cx="220.2" cy="2409.3" r="8" fill="#E8950E"/>
<circle cx="187.1" cy="2423.4" r="8" fill="#E8950E"/>
<circle cx="220.2" cy="2475.8" r="8" fill="#E8950E"/>
<circle cx="187.1" cy="2483.1" r="8" fill="#E8950E"/>
<circle cx="264.9" cy="2311.1" r="8" fill="#0B5884"/>
<circle cx="300.8" cy="2326.1" r="8" fill="#0B5884"/>
<circle cx="264.9" cy="2338.8" r="8" fill="#0B5884"/>
<circle cx="284.2" cy="2355.0" r="8" fill="#0B5884"/>
<circle cx="284.2" cy="2478.0" r="8" fill="#0B5884"/>
<circle cx="394.9" cy="2267.2" r="8" fill="#E8950E"/>
<circle cx="394.8" cy="2362.9" r="8" fill="#E8950E"/>
<circle cx="377.8" cy="2496.4" r="8" fill="#E8950E"/>
<circle cx="414.9" cy="2512.5" r="8" fill="#E8950E"/>
<circle cx="394.8" cy="2536.0" r="8" fill="#E8950E"/>
<circle cx="472.0" cy="2411.5" r="8" fill="#0B5884"/>
<circle cx="489.0" cy="2448.3" r="8" fill="#0B5884"/>
<circle cx="452.2" cy="2461.9" r="8" fill="#0B5884"/>
<circle cx="452.2" cy="2527.5" r="8" fill="#0B5884"/>
<circle cx="489.0" cy="2526.1" r="8" fill="#0B5884"/>
<rect x="155.0" y="2150.6" width="17.2" height="17.2" fill="#FF9300" stroke="#000" stroke-width="3.6"/>
<rect x="155.0" y="2192.3" width="17.2" height="17.2" fill="#005493" stroke="#000" stroke-width="3.6"/>
<text x="188.8" y="2169.6" font-size="29" textLength="101.4" lengthAdjust="spacingAndGlyphs">altruistic</text>
<text x="188.8" y="2211.8" font-size="29" textLength="78.1" lengthAdjust="spacingAndGlyphs">selfish</text>
<polyline points="284.3,2297.9 284.3,2242.0 472.0,2242.0 472.0,2397.0" fill="none" stroke="#000" stroke-width="1.6" stroke-linejoin="miter" stroke-linecap="butt"/>
<text x="379.9" y="2247.0" font-size="34" text-anchor="middle" font-weight="bold">*</text>
<text x="150.9" y="2603.3" font-size="29" fill="#BDBDBD" textLength="151.4" lengthAdjust="spacingAndGlyphs">subordinate</text>
<text x="369.6" y="2603.3" font-size="29" fill="#E0202A" textLength="119.4" lengthAdjust="spacingAndGlyphs">dominant</text>
<text x="944.7" y="2112.8" font-size="29" fill="#E8308C" textLength="76.3" lengthAdjust="spacingAndGlyphs">hM4D</text>
<text x="758.8" y="2149.1" font-size="29" fill="#BDBDBD" textLength="150.6" lengthAdjust="spacingAndGlyphs">subordinate</text>
<text x="1072.7" y="2149.2" font-size="29" fill="#DA1F28" textLength="119.5" lengthAdjust="spacingAndGlyphs">dominant</text>
<line x1="732.2" y1="2479.4" x2="732.2" y2="2505.0" stroke="#FF9300" stroke-width="3.6" stroke-linecap="round"/>
<line x1="787.8" y1="2482.8" x2="787.8" y2="2513.3" stroke="#FF9300" stroke-width="3.6" stroke-linecap="round"/>
<line x1="842.9" y1="2413.9" x2="842.9" y2="2491.2" stroke="#FF9300" stroke-width="3.6" stroke-linecap="round"/>
<line x1="898.5" y1="2389.3" x2="898.5" y2="2474.4" stroke="#FF9300" stroke-width="3.6" stroke-linecap="round"/>
<line x1="953.6" y1="2394.2" x2="953.6" y2="2483.8" stroke="#FF9300" stroke-width="3.6" stroke-linecap="round"/>
<polyline points="732.2,2491.7 787.8,2497.6 842.9,2449.3 898.5,2432.1 953.6,2438.5" fill="none" stroke="#FF9300" stroke-width="4.4" stroke-linejoin="round" stroke-linecap="round"/>
<circle cx="732.2" cy="2491.7" r="8.3" fill="#FF9300"/>
<circle cx="787.8" cy="2497.6" r="8.3" fill="#FF9300"/>
<circle cx="842.9" cy="2449.3" r="8.3" fill="#FF9300"/>
<circle cx="898.5" cy="2432.1" r="8.3" fill="#FF9300"/>
<circle cx="953.6" cy="2438.5" r="8.3" fill="#FF9300"/>
<line x1="732.2" y1="2490.2" x2="732.2" y2="2508.4" stroke="#005493" stroke-width="3.6" stroke-linecap="round"/>
<line x1="787.8" y1="2348.5" x2="787.8" y2="2442.0" stroke="#005493" stroke-width="3.6" stroke-linecap="round"/>
<line x1="842.9" y1="2308.1" x2="842.9" y2="2413.0" stroke="#005493" stroke-width="3.6" stroke-linecap="round"/>
<line x1="898.5" y1="2328.8" x2="898.5" y2="2433.6" stroke="#005493" stroke-width="3.6" stroke-linecap="round"/>
<line x1="953.6" y1="2302.2" x2="953.6" y2="2441.0" stroke="#005493" stroke-width="3.6" stroke-linecap="round"/>
<polyline points="732.2,2499.0 787.8,2394.2 842.9,2360.8 898.5,2381.9 953.6,2372.1" fill="none" stroke="#005493" stroke-width="4.4" stroke-linejoin="round" stroke-linecap="round"/>
<circle cx="732.2" cy="2499.0" r="8.3" fill="#005493"/>
<circle cx="787.8" cy="2394.2" r="8.3" fill="#005493"/>
<circle cx="842.9" cy="2360.8" r="8.3" fill="#005493"/>
<circle cx="898.5" cy="2381.9" r="8.3" fill="#005493"/>
<circle cx="953.6" cy="2372.1" r="8.3" fill="#005493"/>
<line x1="1048.0" y1="2536.0" x2="1048.0" y2="2546.0" stroke="#FF9300" stroke-width="3.6" stroke-linecap="round"/>
<line x1="1103.7" y1="2504.9" x2="1103.7" y2="2536.9" stroke="#FF9300" stroke-width="3.6" stroke-linecap="round"/>
<line x1="1158.8" y1="2490.2" x2="1158.8" y2="2530.5" stroke="#FF9300" stroke-width="3.6" stroke-linecap="round"/>
<line x1="1214.4" y1="2346.0" x2="1214.4" y2="2459.2" stroke="#FF9300" stroke-width="3.6" stroke-linecap="round"/>
<line x1="1270.0" y1="2215.6" x2="1270.0" y2="2434.6" stroke="#FF9300" stroke-width="3.6" stroke-linecap="round"/>
<polyline points="1048.0,2540.9 1103.7,2520.7 1158.8,2509.9 1214.4,2402.6 1270.0,2325.4" fill="none" stroke="#FF9300" stroke-width="4.4" stroke-linejoin="round" stroke-linecap="round"/>
<circle cx="1048.0" cy="2540.9" r="8.3" fill="#FF9300"/>
<circle cx="1103.7" cy="2520.7" r="8.3" fill="#FF9300"/>
<circle cx="1158.8" cy="2509.9" r="8.3" fill="#FF9300"/>
<circle cx="1214.4" cy="2402.6" r="8.3" fill="#FF9300"/>
<circle cx="1270.0" cy="2325.4" r="8.3" fill="#FF9300"/>
<line x1="1048.0" y1="2527.0" x2="1048.0" y2="2537.0" stroke="#005493" stroke-width="3.6" stroke-linecap="round"/>
<line x1="1103.7" y1="2528.0" x2="1103.7" y2="2539.0" stroke="#005493" stroke-width="3.6" stroke-linecap="round"/>
<line x1="1158.8" y1="2444.4" x2="1158.8" y2="2497.6" stroke="#005493" stroke-width="3.6" stroke-linecap="round"/>
<line x1="1214.4" y1="2428.7" x2="1214.4" y2="2455.7" stroke="#005493" stroke-width="3.6" stroke-linecap="round"/>
<line x1="1270.0" y1="2447.4" x2="1270.0" y2="2516.3" stroke="#005493" stroke-width="3.6" stroke-linecap="round"/>
<polyline points="1048.0,2532.0 1103.7,2533.5 1158.8,2470.5 1214.4,2441.0 1270.0,2481.8" fill="none" stroke="#005493" stroke-width="4.4" stroke-linejoin="round" stroke-linecap="round"/>
<circle cx="1048.0" cy="2532.0" r="8.3" fill="#005493"/>
<circle cx="1103.7" cy="2533.5" r="8.3" fill="#005493"/>
<circle cx="1158.8" cy="2470.5" r="8.3" fill="#005493"/>
<circle cx="1214.4" cy="2441.0" r="8.3" fill="#005493"/>
<circle cx="1270.0" cy="2481.8" r="8.3" fill="#005493"/>
<line x1="697.5" y1="2148.7" x2="697.5" y2="2560.2" stroke="#000" stroke-width="4.4"/>
<line x1="683.3" y1="2558.0" x2="1307.8" y2="2558.0" stroke="#000" stroke-width="4.4"/>
<line x1="683.3" y1="2558.0" x2="697.5" y2="2558.0" stroke="#000" stroke-width="4.4"/>
<text x="671.7" y="2568.4" font-size="28.5" text-anchor="end">0</text>
<line x1="683.3" y1="2476.6" x2="697.5" y2="2476.6" stroke="#000" stroke-width="4.4"/>
<text x="671.7" y="2487.0" font-size="28.5" text-anchor="end">20</text>
<line x1="683.3" y1="2395.2" x2="697.5" y2="2395.2" stroke="#000" stroke-width="4.4"/>
<text x="671.7" y="2405.6" font-size="28.5" text-anchor="end">40</text>
<line x1="683.3" y1="2313.7" x2="697.5" y2="2313.7" stroke="#000" stroke-width="4.4"/>
<text x="671.7" y="2324.1" font-size="28.5" text-anchor="end">60</text>
<line x1="683.3" y1="2232.3" x2="697.5" y2="2232.3" stroke="#000" stroke-width="4.4"/>
<text x="671.7" y="2242.7" font-size="28.5" text-anchor="end">80</text>
<line x1="683.3" y1="2150.9" x2="697.5" y2="2150.9" stroke="#000" stroke-width="4.4"/>
<text x="671.7" y="2161.3" font-size="28.5" text-anchor="end">100</text>
<line x1="732.2" y1="2558.0" x2="732.2" y2="2572.8" stroke="#000" stroke-width="4.4"/>
<text x="730.7" y="2602.4" font-size="28.5" text-anchor="middle">1</text>
<line x1="787.8" y1="2558.0" x2="787.8" y2="2572.8" stroke="#000" stroke-width="4.4"/>
<text x="786.3" y="2602.4" font-size="28.5" text-anchor="middle">2</text>
<line x1="842.9" y1="2558.0" x2="842.9" y2="2572.8" stroke="#000" stroke-width="4.4"/>
<text x="841.4" y="2602.4" font-size="28.5" text-anchor="middle">3</text>
<line x1="898.5" y1="2558.0" x2="898.5" y2="2572.8" stroke="#000" stroke-width="4.4"/>
<text x="897.0" y="2602.4" font-size="28.5" text-anchor="middle">4</text>
<line x1="953.6" y1="2558.0" x2="953.6" y2="2572.8" stroke="#000" stroke-width="4.4"/>
<text x="952.1" y="2602.4" font-size="28.5" text-anchor="middle">5</text>
<line x1="1048.0" y1="2558.0" x2="1048.0" y2="2572.8" stroke="#000" stroke-width="4.4"/>
<text x="1046.5" y="2602.4" font-size="28.5" text-anchor="middle">1</text>
<line x1="1103.7" y1="2558.0" x2="1103.7" y2="2572.8" stroke="#000" stroke-width="4.4"/>
<text x="1102.2" y="2602.4" font-size="28.5" text-anchor="middle">2</text>
<line x1="1158.8" y1="2558.0" x2="1158.8" y2="2572.8" stroke="#000" stroke-width="4.4"/>
<text x="1157.3" y="2602.4" font-size="28.5" text-anchor="middle">3</text>
<line x1="1214.4" y1="2558.0" x2="1214.4" y2="2572.8" stroke="#000" stroke-width="4.4"/>
<text x="1212.9" y="2602.4" font-size="28.5" text-anchor="middle">4</text>
<line x1="1270.0" y1="2558.0" x2="1270.0" y2="2572.8" stroke="#000" stroke-width="4.4"/>
<text x="1268.5" y="2602.4" font-size="28.5" text-anchor="middle">5</text>
<text x="999.4" y="2644.2" font-size="29" text-anchor="middle" textLength="73.0" lengthAdjust="spacingAndGlyphs">Days</text>
<text x="619.0" y="2359.8" font-size="29" text-anchor="middle" transform="rotate(-90 619.0 2359.8)" textLength="239.0" lengthAdjust="spacingAndGlyphs">Number of choices</text>
<line x1="718.2" y1="2229.7" x2="764.7" y2="2229.7" stroke="#FF9300" stroke-width="4" stroke-linecap="round"/>
<circle cx="741.5" cy="2229.7" r="7.8" fill="#FF9300"/>
<line x1="718.2" y1="2273.1" x2="764.7" y2="2273.1" stroke="#005493" stroke-width="4" stroke-linecap="round"/>
<circle cx="741.5" cy="2273.1" r="7.8" fill="#005493"/>
<text x="779.4" y="2237.7" font-size="29" textLength="101.6" lengthAdjust="spacingAndGlyphs">altruistic</text>
<text x="779.4" y="2279.6" font-size="29" textLength="78.3" lengthAdjust="spacingAndGlyphs">selfish</text>
<text x="1370.0" y="2129.3" font-size="49" fill="#231F20" font-weight="bold">k</text>
<text x="1581.7" y="2113.4" font-size="25" fill="#E8308C" textLength="65.8" lengthAdjust="spacingAndGlyphs">hM4D</text>
<rect x="1500.3" y="2356.1" width="12.1" height="71.7" fill="#E61E28"/>
<rect x="1527.3" y="2297.3" width="12.1" height="58.8" fill="#E61E28"/>
<rect x="1554.7" y="2298.0" width="12.1" height="58.1" fill="#E61E28"/>
<rect x="1581.7" y="2356.1" width="12.1" height="84.5" fill="#E61E28"/>
<rect x="1609.0" y="2253.6" width="11.8" height="102.5" fill="#BFBFBF"/>
<rect x="1636.0" y="2356.1" width="11.8" height="94.2" fill="#BFBFBF"/>
<rect x="1663.0" y="2356.1" width="12.2" height="197.4" fill="#BFBFBF"/>
<rect x="1690.0" y="2356.1" width="12.2" height="60.3" fill="#BFBFBF"/>
<rect x="1717.4" y="2233.2" width="12.1" height="122.9" fill="#BFBFBF"/>
<rect x="1744.4" y="2356.1" width="12.1" height="126.8" fill="#BFBFBF"/>
<line x1="1492.4" y1="2151.4" x2="1492.4" y2="2561.6" stroke="#000" stroke-width="4.4"/>
<line x1="1478.5" y1="2356.1" x2="1764.2" y2="2356.1" stroke="#000" stroke-width="4.4"/>
<line x1="1478.5" y1="2153.6" x2="1492.4" y2="2153.6" stroke="#000" stroke-width="4.4"/>
<text x="1469.8" y="2163.1" font-size="28.5" text-anchor="end">1.0</text>
<line x1="1478.5" y1="2254.7" x2="1492.4" y2="2254.7" stroke="#000" stroke-width="4.4"/>
<text x="1469.8" y="2264.2" font-size="28.5" text-anchor="end">0.5</text>
<line x1="1478.5" y1="2356.1" x2="1492.4" y2="2356.1" stroke="#000" stroke-width="4.4"/>
<text x="1469.8" y="2365.6" font-size="28.5" text-anchor="end">0</text>
<line x1="1478.5" y1="2458.3" x2="1492.4" y2="2458.3" stroke="#000" stroke-width="4.4"/>
<text x="1469.8" y="2467.8" font-size="28.5" text-anchor="end">-0.5</text>
<line x1="1478.5" y1="2559.4" x2="1492.4" y2="2559.4" stroke="#000" stroke-width="4.4"/>
<text x="1469.8" y="2568.9" font-size="28.5" text-anchor="end">-1.0</text>
<text x="1399.6" y="2359.6" font-size="29" text-anchor="middle" transform="rotate(-90 1399.6 2359.6)" textLength="335.8" lengthAdjust="spacingAndGlyphs">Decision preference score</text>
<rect x="1510.8" y="2150.5" width="17.2" height="17.2" fill="#E61E28" stroke="#000" stroke-width="3.6"/>
<rect x="1510.8" y="2192.0" width="17.2" height="17.2" fill="#BFBFBF" stroke="#000" stroke-width="3.6"/>
<text x="1544.3" y="2169.2" font-size="29" textLength="119.5" lengthAdjust="spacingAndGlyphs">dominant</text>
<text x="1544.3" y="2210.7" font-size="29" textLength="151.3" lengthAdjust="spacingAndGlyphs">subordinate</text>
</svg>
</body></html>
